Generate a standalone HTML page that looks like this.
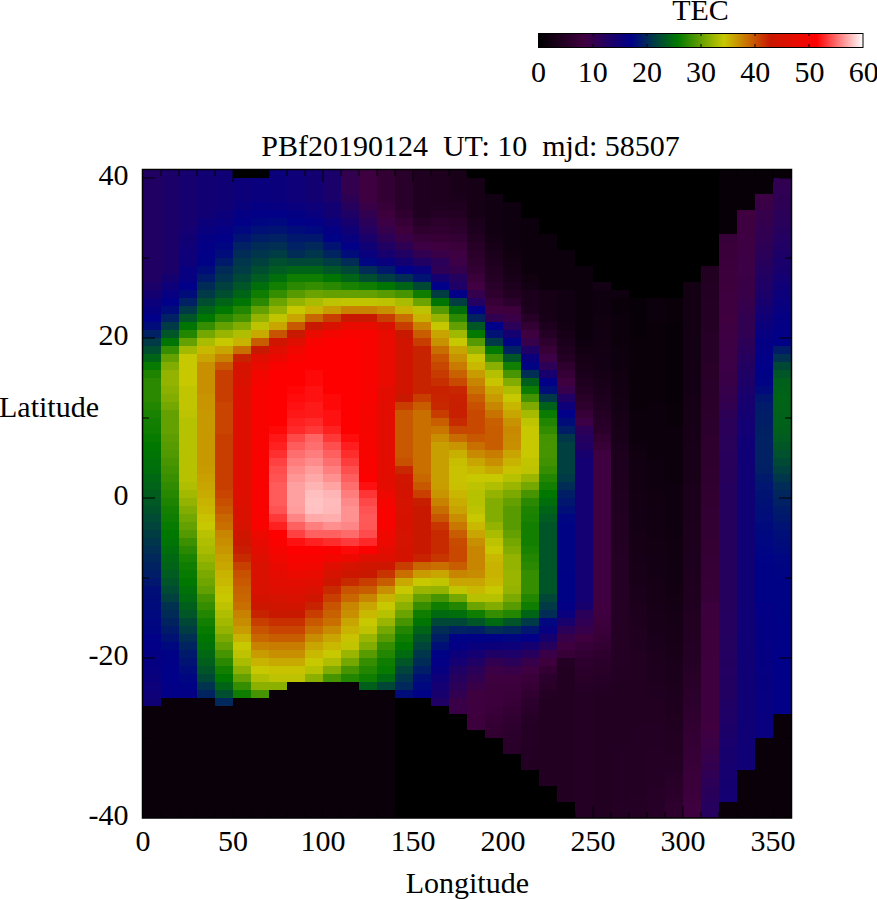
<!DOCTYPE html>
<html><head><meta charset="utf-8"><title>TEC</title>
<style>
html,body{margin:0;padding:0;background:#fff;}
body{width:877px;height:900px;overflow:hidden;font-family:"Liberation Serif",serif;}
svg{display:block;}
text{font-family:"Liberation Serif",serif;font-size:30px;fill:#000;}
</style></head><body>
<svg width="877" height="900" viewBox="0 0 877 900">
<defs><linearGradient id="cb" x1="0" y1="0" x2="1" y2="0"><stop offset="0.0000" stop-color="#000000"/><stop offset="0.1429" stop-color="#400040"/><stop offset="0.2857" stop-color="#000088"/><stop offset="0.4286" stop-color="#007800"/><stop offset="0.5714" stop-color="#c8c800"/><stop offset="0.7143" stop-color="#c81800"/><stop offset="0.8571" stop-color="#ff0000"/><stop offset="1.0000" stop-color="#ffffff"/></linearGradient></defs>
<rect width="877" height="900" fill="#fff"/>
<g shape-rendering="crispEdges">
<rect x="143" y="170" width="18" height="112" fill="#210063"/>
<rect x="143" y="282" width="18" height="8" fill="#1b0069"/>
<rect x="143" y="290" width="18" height="8" fill="#150070"/>
<rect x="143" y="298" width="18" height="8" fill="#0c007a"/>
<rect x="143" y="306" width="18" height="8" fill="#060081"/>
<rect x="143" y="314" width="18" height="8" fill="#000088"/>
<rect x="143" y="322" width="18" height="8" fill="#000c7a"/>
<rect x="143" y="330" width="18" height="8" fill="#002163"/>
<rect x="143" y="338" width="18" height="8" fill="#003a46"/>
<rect x="143" y="346" width="18" height="8" fill="#004e30"/>
<rect x="143" y="354" width="18" height="8" fill="#006416"/>
<rect x="143" y="362" width="18" height="8" fill="#077b00"/>
<rect x="143" y="370" width="18" height="8" fill="#1e8400"/>
<rect x="143" y="378" width="18" height="24" fill="#2a8900"/>
<rect x="143" y="402" width="18" height="8" fill="#238600"/>
<rect x="143" y="410" width="18" height="8" fill="#198200"/>
<rect x="143" y="418" width="18" height="8" fill="#127f00"/>
<rect x="143" y="426" width="18" height="8" fill="#0e7d00"/>
<rect x="143" y="434" width="18" height="8" fill="#077b00"/>
<rect x="143" y="442" width="18" height="8" fill="#007800"/>
<rect x="143" y="450" width="18" height="8" fill="#007503"/>
<rect x="143" y="458" width="18" height="8" fill="#007108"/>
<rect x="143" y="466" width="18" height="8" fill="#006e0b"/>
<rect x="143" y="474" width="18" height="8" fill="#006812"/>
<rect x="143" y="482" width="18" height="8" fill="#006318"/>
<rect x="143" y="490" width="18" height="8" fill="#005d1e"/>
<rect x="143" y="498" width="18" height="8" fill="#005825"/>
<rect x="143" y="506" width="18" height="8" fill="#00522b"/>
<rect x="143" y="514" width="18" height="8" fill="#004b33"/>
<rect x="143" y="522" width="18" height="8" fill="#00443b"/>
<rect x="143" y="530" width="18" height="8" fill="#003d43"/>
<rect x="143" y="538" width="18" height="8" fill="#00364b"/>
<rect x="143" y="546" width="18" height="8" fill="#002f53"/>
<rect x="143" y="554" width="18" height="8" fill="#00285b"/>
<rect x="143" y="562" width="18" height="8" fill="#002261"/>
<rect x="143" y="570" width="18" height="8" fill="#001d67"/>
<rect x="143" y="578" width="18" height="8" fill="#00166f"/>
<rect x="143" y="586" width="18" height="8" fill="#000f77"/>
<rect x="143" y="594" width="18" height="8" fill="#000d79"/>
<rect x="143" y="602" width="18" height="8" fill="#000b7b"/>
<rect x="143" y="610" width="18" height="8" fill="#00097d"/>
<rect x="143" y="618" width="18" height="8" fill="#000780"/>
<rect x="143" y="626" width="18" height="8" fill="#000582"/>
<rect x="143" y="634" width="18" height="8" fill="#000187"/>
<rect x="143" y="642" width="18" height="8" fill="#010087"/>
<rect x="143" y="650" width="18" height="8" fill="#030084"/>
<rect x="143" y="658" width="18" height="8" fill="#050082"/>
<rect x="143" y="666" width="18" height="8" fill="#070080"/>
<rect x="143" y="674" width="18" height="8" fill="#09007e"/>
<rect x="143" y="682" width="18" height="8" fill="#0c007b"/>
<rect x="143" y="690" width="18" height="8" fill="#0e0078"/>
<rect x="143" y="698" width="18" height="8" fill="#100076"/>
<rect x="143" y="706" width="18" height="112" fill="#0a000a"/>
<rect x="161" y="170" width="18" height="104" fill="#1b0069"/>
<rect x="161" y="274" width="18" height="8" fill="#150070"/>
<rect x="161" y="282" width="18" height="8" fill="#0e0079"/>
<rect x="161" y="290" width="18" height="8" fill="#070080"/>
<rect x="161" y="298" width="18" height="8" fill="#000088"/>
<rect x="161" y="306" width="18" height="8" fill="#000c7a"/>
<rect x="161" y="314" width="18" height="8" fill="#002163"/>
<rect x="161" y="322" width="18" height="8" fill="#003a46"/>
<rect x="161" y="330" width="18" height="8" fill="#005626"/>
<rect x="161" y="338" width="18" height="8" fill="#007503"/>
<rect x="161" y="346" width="18" height="8" fill="#358d00"/>
<rect x="161" y="354" width="18" height="8" fill="#64a000"/>
<rect x="161" y="362" width="18" height="8" fill="#82ac00"/>
<rect x="161" y="370" width="18" height="16" fill="#93b300"/>
<rect x="161" y="386" width="18" height="8" fill="#8cb000"/>
<rect x="161" y="394" width="18" height="8" fill="#82ac00"/>
<rect x="161" y="402" width="18" height="8" fill="#74a700"/>
<rect x="161" y="410" width="18" height="24" fill="#64a000"/>
<rect x="161" y="434" width="18" height="8" fill="#5d9d00"/>
<rect x="161" y="442" width="18" height="8" fill="#589b00"/>
<rect x="161" y="450" width="18" height="8" fill="#519900"/>
<rect x="161" y="458" width="18" height="8" fill="#489500"/>
<rect x="161" y="466" width="18" height="8" fill="#419200"/>
<rect x="161" y="474" width="18" height="8" fill="#3a8f00"/>
<rect x="161" y="482" width="18" height="8" fill="#318b00"/>
<rect x="161" y="490" width="18" height="8" fill="#278800"/>
<rect x="161" y="498" width="18" height="8" fill="#1e8400"/>
<rect x="161" y="506" width="18" height="8" fill="#158000"/>
<rect x="161" y="514" width="18" height="8" fill="#0e7d00"/>
<rect x="161" y="522" width="18" height="8" fill="#077b00"/>
<rect x="161" y="530" width="18" height="8" fill="#007800"/>
<rect x="161" y="538" width="18" height="8" fill="#007405"/>
<rect x="161" y="546" width="18" height="8" fill="#006e0b"/>
<rect x="161" y="554" width="18" height="8" fill="#006812"/>
<rect x="161" y="562" width="18" height="8" fill="#006318"/>
<rect x="161" y="570" width="18" height="8" fill="#005c20"/>
<rect x="161" y="578" width="18" height="8" fill="#005528"/>
<rect x="161" y="586" width="18" height="8" fill="#004b33"/>
<rect x="161" y="594" width="18" height="8" fill="#00403f"/>
<rect x="161" y="602" width="18" height="8" fill="#00324f"/>
<rect x="161" y="610" width="18" height="8" fill="#002b57"/>
<rect x="161" y="618" width="18" height="8" fill="#002360"/>
<rect x="161" y="626" width="18" height="8" fill="#001a6a"/>
<rect x="161" y="634" width="18" height="8" fill="#001174"/>
<rect x="161" y="642" width="18" height="8" fill="#00087f"/>
<rect x="161" y="650" width="18" height="8" fill="#000286"/>
<rect x="161" y="658" width="18" height="8" fill="#000187"/>
<rect x="161" y="666" width="18" height="16" fill="#000088"/>
<rect x="161" y="682" width="18" height="16" fill="#010087"/>
<rect x="161" y="698" width="18" height="120" fill="#0a000a"/>
<rect x="179" y="170" width="18" height="56" fill="#16006f"/>
<rect x="179" y="226" width="18" height="8" fill="#140072"/>
<rect x="179" y="234" width="18" height="8" fill="#110074"/>
<rect x="179" y="242" width="18" height="8" fill="#0f0077"/>
<rect x="179" y="250" width="18" height="16" fill="#0e0079"/>
<rect x="179" y="266" width="18" height="16" fill="#070080"/>
<rect x="179" y="282" width="18" height="8" fill="#000088"/>
<rect x="179" y="290" width="18" height="8" fill="#000c7a"/>
<rect x="179" y="298" width="18" height="8" fill="#002163"/>
<rect x="179" y="306" width="18" height="8" fill="#003a46"/>
<rect x="179" y="314" width="18" height="8" fill="#005626"/>
<rect x="179" y="322" width="18" height="8" fill="#007503"/>
<rect x="179" y="330" width="18" height="8" fill="#238600"/>
<rect x="179" y="338" width="18" height="8" fill="#64a000"/>
<rect x="179" y="346" width="18" height="8" fill="#a3b900"/>
<rect x="179" y="354" width="18" height="32" fill="#c8c800"/>
<rect x="179" y="386" width="18" height="24" fill="#c1c500"/>
<rect x="179" y="410" width="18" height="8" fill="#bdc300"/>
<rect x="179" y="418" width="18" height="64" fill="#b6c100"/>
<rect x="179" y="482" width="18" height="8" fill="#afbe00"/>
<rect x="179" y="490" width="18" height="8" fill="#a3b900"/>
<rect x="179" y="498" width="18" height="8" fill="#93b300"/>
<rect x="179" y="506" width="18" height="8" fill="#82ac00"/>
<rect x="179" y="514" width="18" height="8" fill="#72a600"/>
<rect x="179" y="522" width="18" height="8" fill="#64a000"/>
<rect x="179" y="530" width="18" height="8" fill="#549900"/>
<rect x="179" y="538" width="18" height="8" fill="#3c9000"/>
<rect x="179" y="546" width="18" height="8" fill="#2a8900"/>
<rect x="179" y="554" width="18" height="8" fill="#198200"/>
<rect x="179" y="562" width="18" height="8" fill="#0e7d00"/>
<rect x="179" y="570" width="18" height="8" fill="#077b00"/>
<rect x="179" y="578" width="18" height="8" fill="#007800"/>
<rect x="179" y="586" width="18" height="8" fill="#007108"/>
<rect x="179" y="594" width="18" height="8" fill="#006a10"/>
<rect x="179" y="602" width="18" height="8" fill="#00601b"/>
<rect x="179" y="610" width="18" height="8" fill="#005626"/>
<rect x="179" y="618" width="18" height="8" fill="#004836"/>
<rect x="179" y="626" width="18" height="8" fill="#003c44"/>
<rect x="179" y="634" width="18" height="8" fill="#002f53"/>
<rect x="179" y="642" width="18" height="8" fill="#00245f"/>
<rect x="179" y="650" width="18" height="8" fill="#001a6b"/>
<rect x="179" y="658" width="18" height="8" fill="#001372"/>
<rect x="179" y="666" width="18" height="8" fill="#000c7a"/>
<rect x="179" y="674" width="18" height="8" fill="#000681"/>
<rect x="179" y="682" width="18" height="8" fill="#000286"/>
<rect x="179" y="690" width="18" height="8" fill="#030085"/>
<rect x="179" y="698" width="18" height="120" fill="#0a000a"/>
<rect x="197" y="170" width="18" height="48" fill="#110074"/>
<rect x="197" y="218" width="18" height="8" fill="#0c007a"/>
<rect x="197" y="226" width="18" height="8" fill="#09007e"/>
<rect x="197" y="234" width="18" height="8" fill="#050083"/>
<rect x="197" y="242" width="18" height="8" fill="#030085"/>
<rect x="197" y="250" width="18" height="8" fill="#010087"/>
<rect x="197" y="258" width="18" height="8" fill="#000286"/>
<rect x="197" y="266" width="18" height="8" fill="#000c7a"/>
<rect x="197" y="274" width="18" height="8" fill="#001a6b"/>
<rect x="197" y="282" width="18" height="8" fill="#002b57"/>
<rect x="197" y="290" width="18" height="8" fill="#003a46"/>
<rect x="197" y="298" width="18" height="8" fill="#004e30"/>
<rect x="197" y="306" width="18" height="8" fill="#006416"/>
<rect x="197" y="314" width="18" height="8" fill="#007800"/>
<rect x="197" y="322" width="18" height="8" fill="#358d00"/>
<rect x="197" y="330" width="18" height="8" fill="#74a700"/>
<rect x="197" y="338" width="18" height="8" fill="#aabc00"/>
<rect x="197" y="346" width="18" height="8" fill="#c8b900"/>
<rect x="197" y="354" width="18" height="8" fill="#c8a500"/>
<rect x="197" y="362" width="18" height="32" fill="#c89000"/>
<rect x="197" y="394" width="18" height="16" fill="#c89400"/>
<rect x="197" y="410" width="18" height="56" fill="#c89800"/>
<rect x="197" y="466" width="18" height="8" fill="#c89b00"/>
<rect x="197" y="474" width="18" height="8" fill="#c8a100"/>
<rect x="197" y="482" width="18" height="8" fill="#c8a500"/>
<rect x="197" y="490" width="18" height="8" fill="#c8ab00"/>
<rect x="197" y="498" width="18" height="8" fill="#c8b300"/>
<rect x="197" y="506" width="18" height="8" fill="#c8b900"/>
<rect x="197" y="514" width="18" height="8" fill="#c8c200"/>
<rect x="197" y="522" width="18" height="8" fill="#c8c800"/>
<rect x="197" y="530" width="18" height="8" fill="#b8c200"/>
<rect x="197" y="538" width="18" height="8" fill="#afbe00"/>
<rect x="197" y="546" width="18" height="8" fill="#a8bb00"/>
<rect x="197" y="554" width="18" height="8" fill="#9ab500"/>
<rect x="197" y="562" width="18" height="8" fill="#89af00"/>
<rect x="197" y="570" width="18" height="8" fill="#7ba900"/>
<rect x="197" y="578" width="18" height="8" fill="#70a500"/>
<rect x="197" y="586" width="18" height="8" fill="#629f00"/>
<rect x="197" y="594" width="18" height="8" fill="#469400"/>
<rect x="197" y="602" width="18" height="8" fill="#358d00"/>
<rect x="197" y="610" width="18" height="8" fill="#238600"/>
<rect x="197" y="618" width="18" height="8" fill="#127f00"/>
<rect x="197" y="626" width="18" height="8" fill="#077b00"/>
<rect x="197" y="634" width="18" height="8" fill="#007602"/>
<rect x="197" y="642" width="18" height="8" fill="#007108"/>
<rect x="197" y="650" width="18" height="8" fill="#006812"/>
<rect x="197" y="658" width="18" height="8" fill="#00601b"/>
<rect x="197" y="666" width="18" height="8" fill="#005528"/>
<rect x="197" y="674" width="18" height="8" fill="#004836"/>
<rect x="197" y="682" width="18" height="8" fill="#00334e"/>
<rect x="197" y="690" width="18" height="8" fill="#00245f"/>
<rect x="197" y="698" width="18" height="120" fill="#0a000a"/>
<rect x="215" y="170" width="18" height="40" fill="#100076"/>
<rect x="215" y="210" width="18" height="8" fill="#0c007a"/>
<rect x="215" y="218" width="18" height="8" fill="#09007e"/>
<rect x="215" y="226" width="18" height="8" fill="#050083"/>
<rect x="215" y="234" width="18" height="8" fill="#010087"/>
<rect x="215" y="242" width="18" height="8" fill="#000582"/>
<rect x="215" y="250" width="18" height="8" fill="#000c7a"/>
<rect x="215" y="258" width="18" height="8" fill="#001a6b"/>
<rect x="215" y="266" width="18" height="8" fill="#002b57"/>
<rect x="215" y="274" width="18" height="8" fill="#00334e"/>
<rect x="215" y="282" width="18" height="8" fill="#00413e"/>
<rect x="215" y="290" width="18" height="8" fill="#004e30"/>
<rect x="215" y="298" width="18" height="8" fill="#006416"/>
<rect x="215" y="306" width="18" height="8" fill="#007800"/>
<rect x="215" y="314" width="18" height="8" fill="#2a8900"/>
<rect x="215" y="322" width="18" height="8" fill="#64a000"/>
<rect x="215" y="330" width="18" height="8" fill="#9ab500"/>
<rect x="215" y="338" width="18" height="8" fill="#c8c800"/>
<rect x="215" y="346" width="18" height="8" fill="#c8a500"/>
<rect x="215" y="354" width="18" height="8" fill="#c88200"/>
<rect x="215" y="362" width="18" height="8" fill="#c85900"/>
<rect x="215" y="370" width="18" height="32" fill="#c83e00"/>
<rect x="215" y="402" width="18" height="32" fill="#c84400"/>
<rect x="215" y="434" width="18" height="56" fill="#c83e00"/>
<rect x="215" y="490" width="18" height="8" fill="#c84400"/>
<rect x="215" y="498" width="18" height="8" fill="#c84f00"/>
<rect x="215" y="506" width="18" height="8" fill="#c85900"/>
<rect x="215" y="514" width="18" height="8" fill="#c86700"/>
<rect x="215" y="522" width="18" height="8" fill="#c86f00"/>
<rect x="215" y="530" width="18" height="8" fill="#c88600"/>
<rect x="215" y="538" width="18" height="8" fill="#c88e00"/>
<rect x="215" y="546" width="18" height="8" fill="#c89600"/>
<rect x="215" y="554" width="18" height="8" fill="#c8a100"/>
<rect x="215" y="562" width="18" height="8" fill="#c8a700"/>
<rect x="215" y="570" width="18" height="8" fill="#c8b300"/>
<rect x="215" y="578" width="18" height="8" fill="#c8b900"/>
<rect x="215" y="586" width="18" height="8" fill="#c8c200"/>
<rect x="215" y="594" width="18" height="8" fill="#c8c800"/>
<rect x="215" y="602" width="18" height="8" fill="#bdc300"/>
<rect x="215" y="610" width="18" height="8" fill="#afbe00"/>
<rect x="215" y="618" width="18" height="8" fill="#a3b900"/>
<rect x="215" y="626" width="18" height="8" fill="#93b300"/>
<rect x="215" y="634" width="18" height="8" fill="#7ba900"/>
<rect x="215" y="642" width="18" height="8" fill="#64a000"/>
<rect x="215" y="650" width="18" height="8" fill="#469400"/>
<rect x="215" y="658" width="18" height="8" fill="#2a8900"/>
<rect x="215" y="666" width="18" height="8" fill="#127f00"/>
<rect x="215" y="674" width="18" height="8" fill="#007800"/>
<rect x="215" y="682" width="18" height="8" fill="#006416"/>
<rect x="215" y="690" width="18" height="8" fill="#004e30"/>
<rect x="215" y="698" width="18" height="8" fill="#00285b"/>
<rect x="215" y="706" width="18" height="112" fill="#0a000a"/>
<rect x="233" y="170" width="18" height="8" fill="#000000"/>
<rect x="233" y="178" width="18" height="24" fill="#0c007a"/>
<rect x="233" y="202" width="18" height="8" fill="#09007e"/>
<rect x="233" y="210" width="18" height="8" fill="#050083"/>
<rect x="233" y="218" width="18" height="8" fill="#010087"/>
<rect x="233" y="226" width="18" height="8" fill="#00087f"/>
<rect x="233" y="234" width="18" height="8" fill="#001372"/>
<rect x="233" y="242" width="18" height="8" fill="#002163"/>
<rect x="233" y="250" width="18" height="8" fill="#002c56"/>
<rect x="233" y="258" width="18" height="8" fill="#00364b"/>
<rect x="233" y="266" width="18" height="8" fill="#003c44"/>
<rect x="233" y="274" width="18" height="8" fill="#004836"/>
<rect x="233" y="282" width="18" height="8" fill="#005626"/>
<rect x="233" y="290" width="18" height="8" fill="#006416"/>
<rect x="233" y="298" width="18" height="8" fill="#007503"/>
<rect x="233" y="306" width="18" height="8" fill="#238600"/>
<rect x="233" y="314" width="18" height="8" fill="#469400"/>
<rect x="233" y="322" width="18" height="8" fill="#82ac00"/>
<rect x="233" y="330" width="18" height="8" fill="#afbe00"/>
<rect x="233" y="338" width="18" height="8" fill="#c8b300"/>
<rect x="233" y="346" width="18" height="8" fill="#c86f00"/>
<rect x="233" y="354" width="18" height="8" fill="#c82300"/>
<rect x="233" y="362" width="18" height="16" fill="#d61200"/>
<rect x="233" y="378" width="18" height="8" fill="#d91100"/>
<rect x="233" y="386" width="18" height="24" fill="#dc0f00"/>
<rect x="233" y="410" width="18" height="88" fill="#de0e00"/>
<rect x="233" y="498" width="18" height="8" fill="#dc0f00"/>
<rect x="233" y="506" width="18" height="8" fill="#da1000"/>
<rect x="233" y="514" width="18" height="8" fill="#d81100"/>
<rect x="233" y="522" width="18" height="8" fill="#d61200"/>
<rect x="233" y="530" width="18" height="8" fill="#cf1500"/>
<rect x="233" y="538" width="18" height="8" fill="#cb1700"/>
<rect x="233" y="546" width="18" height="8" fill="#c81d00"/>
<rect x="233" y="554" width="18" height="8" fill="#c82a00"/>
<rect x="233" y="562" width="18" height="8" fill="#c84000"/>
<rect x="233" y="570" width="18" height="8" fill="#c85100"/>
<rect x="233" y="578" width="18" height="8" fill="#c85900"/>
<rect x="233" y="586" width="18" height="8" fill="#c86100"/>
<rect x="233" y="594" width="18" height="8" fill="#c86700"/>
<rect x="233" y="602" width="18" height="8" fill="#c86f00"/>
<rect x="233" y="610" width="18" height="8" fill="#c88200"/>
<rect x="233" y="618" width="18" height="8" fill="#c88c00"/>
<rect x="233" y="626" width="18" height="8" fill="#c89b00"/>
<rect x="233" y="634" width="18" height="8" fill="#c8b300"/>
<rect x="233" y="642" width="18" height="8" fill="#c8c800"/>
<rect x="233" y="650" width="18" height="8" fill="#bdc300"/>
<rect x="233" y="658" width="18" height="8" fill="#aabc00"/>
<rect x="233" y="666" width="18" height="8" fill="#8cb000"/>
<rect x="233" y="674" width="18" height="8" fill="#64a000"/>
<rect x="233" y="682" width="18" height="8" fill="#358d00"/>
<rect x="233" y="690" width="18" height="8" fill="#0e7d00"/>
<rect x="233" y="698" width="18" height="120" fill="#0a000a"/>
<rect x="251" y="170" width="18" height="8" fill="#000000"/>
<rect x="251" y="178" width="18" height="24" fill="#09007e"/>
<rect x="251" y="202" width="18" height="8" fill="#050083"/>
<rect x="251" y="210" width="18" height="8" fill="#010087"/>
<rect x="251" y="218" width="18" height="8" fill="#000582"/>
<rect x="251" y="226" width="18" height="8" fill="#001076"/>
<rect x="251" y="234" width="18" height="8" fill="#001d67"/>
<rect x="251" y="242" width="18" height="8" fill="#002b57"/>
<rect x="251" y="250" width="18" height="8" fill="#00364b"/>
<rect x="251" y="258" width="18" height="8" fill="#00413e"/>
<rect x="251" y="266" width="18" height="8" fill="#004e30"/>
<rect x="251" y="274" width="18" height="8" fill="#005c20"/>
<rect x="251" y="282" width="18" height="8" fill="#006e0b"/>
<rect x="251" y="290" width="18" height="8" fill="#0e7d00"/>
<rect x="251" y="298" width="18" height="8" fill="#2a8900"/>
<rect x="251" y="306" width="18" height="8" fill="#64a000"/>
<rect x="251" y="314" width="18" height="8" fill="#93b300"/>
<rect x="251" y="322" width="18" height="8" fill="#bdc300"/>
<rect x="251" y="330" width="18" height="8" fill="#c8a900"/>
<rect x="251" y="338" width="18" height="8" fill="#c85d00"/>
<rect x="251" y="346" width="18" height="8" fill="#c91800"/>
<rect x="251" y="354" width="18" height="8" fill="#df0e00"/>
<rect x="251" y="362" width="18" height="8" fill="#e90a00"/>
<rect x="251" y="370" width="18" height="8" fill="#f30500"/>
<rect x="251" y="378" width="18" height="8" fill="#f60400"/>
<rect x="251" y="386" width="18" height="144" fill="#f80300"/>
<rect x="251" y="530" width="18" height="8" fill="#ed0800"/>
<rect x="251" y="538" width="18" height="8" fill="#e70a00"/>
<rect x="251" y="546" width="18" height="8" fill="#e30c00"/>
<rect x="251" y="554" width="18" height="8" fill="#dc0f00"/>
<rect x="251" y="562" width="18" height="24" fill="#d91100"/>
<rect x="251" y="586" width="18" height="8" fill="#d81100"/>
<rect x="251" y="594" width="18" height="8" fill="#d31300"/>
<rect x="251" y="602" width="18" height="8" fill="#cc1600"/>
<rect x="251" y="610" width="18" height="8" fill="#c82300"/>
<rect x="251" y="618" width="18" height="8" fill="#c83e00"/>
<rect x="251" y="626" width="18" height="8" fill="#c85300"/>
<rect x="251" y="634" width="18" height="8" fill="#c86700"/>
<rect x="251" y="642" width="18" height="8" fill="#c88200"/>
<rect x="251" y="650" width="18" height="8" fill="#c89b00"/>
<rect x="251" y="658" width="18" height="8" fill="#c8b300"/>
<rect x="251" y="666" width="18" height="8" fill="#c8c800"/>
<rect x="251" y="674" width="18" height="8" fill="#afbe00"/>
<rect x="251" y="682" width="18" height="8" fill="#8cb000"/>
<rect x="251" y="690" width="18" height="8" fill="#469400"/>
<rect x="251" y="698" width="18" height="120" fill="#0a000a"/>
<rect x="269" y="170" width="18" height="32" fill="#0b007c"/>
<rect x="269" y="202" width="18" height="8" fill="#060081"/>
<rect x="269" y="210" width="18" height="8" fill="#010087"/>
<rect x="269" y="218" width="18" height="8" fill="#00087f"/>
<rect x="269" y="226" width="18" height="8" fill="#001372"/>
<rect x="269" y="234" width="18" height="8" fill="#002163"/>
<rect x="269" y="242" width="18" height="8" fill="#002f53"/>
<rect x="269" y="250" width="18" height="8" fill="#003c44"/>
<rect x="269" y="258" width="18" height="8" fill="#004e30"/>
<rect x="269" y="266" width="18" height="8" fill="#005c20"/>
<rect x="269" y="274" width="18" height="8" fill="#006e0b"/>
<rect x="269" y="282" width="18" height="8" fill="#127f00"/>
<rect x="269" y="290" width="18" height="8" fill="#358d00"/>
<rect x="269" y="298" width="18" height="8" fill="#6ba300"/>
<rect x="269" y="306" width="18" height="8" fill="#93b300"/>
<rect x="269" y="314" width="18" height="8" fill="#c1c500"/>
<rect x="269" y="322" width="18" height="8" fill="#c8a500"/>
<rect x="269" y="330" width="18" height="8" fill="#c85300"/>
<rect x="269" y="338" width="18" height="8" fill="#cf1500"/>
<rect x="269" y="346" width="18" height="8" fill="#df0e00"/>
<rect x="269" y="354" width="18" height="8" fill="#ec0800"/>
<rect x="269" y="362" width="18" height="8" fill="#f80300"/>
<rect x="269" y="370" width="18" height="56" fill="#ff0000"/>
<rect x="269" y="426" width="18" height="8" fill="#ff0808"/>
<rect x="269" y="434" width="18" height="8" fill="#ff1717"/>
<rect x="269" y="442" width="18" height="8" fill="#ff2020"/>
<rect x="269" y="450" width="18" height="8" fill="#ff2f2f"/>
<rect x="269" y="458" width="18" height="8" fill="#ff4141"/>
<rect x="269" y="466" width="18" height="8" fill="#ff4c4c"/>
<rect x="269" y="474" width="18" height="8" fill="#ff5252"/>
<rect x="269" y="482" width="18" height="24" fill="#ff5b5b"/>
<rect x="269" y="506" width="18" height="8" fill="#ff5252"/>
<rect x="269" y="514" width="18" height="8" fill="#ff3838"/>
<rect x="269" y="522" width="18" height="8" fill="#ff2020"/>
<rect x="269" y="530" width="18" height="8" fill="#ff0000"/>
<rect x="269" y="538" width="18" height="8" fill="#fa0200"/>
<rect x="269" y="546" width="18" height="8" fill="#f50400"/>
<rect x="269" y="554" width="18" height="8" fill="#ef0700"/>
<rect x="269" y="562" width="18" height="8" fill="#ea0900"/>
<rect x="269" y="570" width="18" height="8" fill="#e60b00"/>
<rect x="269" y="578" width="18" height="8" fill="#e10d00"/>
<rect x="269" y="586" width="18" height="8" fill="#dc0f00"/>
<rect x="269" y="594" width="18" height="8" fill="#d61200"/>
<rect x="269" y="602" width="18" height="8" fill="#cf1500"/>
<rect x="269" y="610" width="18" height="8" fill="#c91800"/>
<rect x="269" y="618" width="18" height="8" fill="#c83000"/>
<rect x="269" y="626" width="18" height="8" fill="#c84400"/>
<rect x="269" y="634" width="18" height="8" fill="#c85d00"/>
<rect x="269" y="642" width="18" height="8" fill="#c87c00"/>
<rect x="269" y="650" width="18" height="8" fill="#c89000"/>
<rect x="269" y="658" width="18" height="8" fill="#c8a900"/>
<rect x="269" y="666" width="18" height="8" fill="#c8c200"/>
<rect x="269" y="674" width="18" height="8" fill="#bdc300"/>
<rect x="269" y="682" width="18" height="8" fill="#8cb000"/>
<rect x="269" y="690" width="18" height="128" fill="#0a000a"/>
<rect x="287" y="170" width="18" height="32" fill="#0e0079"/>
<rect x="287" y="202" width="18" height="8" fill="#09007e"/>
<rect x="287" y="210" width="18" height="8" fill="#040083"/>
<rect x="287" y="218" width="18" height="8" fill="#000187"/>
<rect x="287" y="226" width="18" height="8" fill="#000c7a"/>
<rect x="287" y="234" width="18" height="8" fill="#00176e"/>
<rect x="287" y="242" width="18" height="8" fill="#002163"/>
<rect x="287" y="250" width="18" height="8" fill="#002c56"/>
<rect x="287" y="258" width="18" height="8" fill="#004836"/>
<rect x="287" y="266" width="18" height="8" fill="#006416"/>
<rect x="287" y="274" width="18" height="8" fill="#0e7d00"/>
<rect x="287" y="282" width="18" height="8" fill="#2a8900"/>
<rect x="287" y="290" width="18" height="8" fill="#589b00"/>
<rect x="287" y="298" width="18" height="8" fill="#93b300"/>
<rect x="287" y="306" width="18" height="8" fill="#c8c800"/>
<rect x="287" y="314" width="18" height="8" fill="#c8a500"/>
<rect x="287" y="322" width="18" height="8" fill="#c85900"/>
<rect x="287" y="330" width="18" height="8" fill="#c91800"/>
<rect x="287" y="338" width="18" height="8" fill="#df0e00"/>
<rect x="287" y="346" width="18" height="8" fill="#ef0700"/>
<rect x="287" y="354" width="18" height="8" fill="#f80300"/>
<rect x="287" y="362" width="18" height="24" fill="#ff0000"/>
<rect x="287" y="386" width="18" height="8" fill="#ff0505"/>
<rect x="287" y="394" width="18" height="8" fill="#ff0b0b"/>
<rect x="287" y="402" width="18" height="8" fill="#ff1111"/>
<rect x="287" y="410" width="18" height="8" fill="#ff1717"/>
<rect x="287" y="418" width="18" height="8" fill="#ff2020"/>
<rect x="287" y="426" width="18" height="8" fill="#ff2929"/>
<rect x="287" y="434" width="18" height="8" fill="#ff4848"/>
<rect x="287" y="442" width="18" height="8" fill="#ff5d5d"/>
<rect x="287" y="450" width="18" height="8" fill="#ff6e6e"/>
<rect x="287" y="458" width="18" height="8" fill="#ff7d7d"/>
<rect x="287" y="466" width="18" height="8" fill="#ff8a8a"/>
<rect x="287" y="474" width="18" height="8" fill="#ff9696"/>
<rect x="287" y="482" width="18" height="24" fill="#ffa0a0"/>
<rect x="287" y="506" width="18" height="8" fill="#ff9d9d"/>
<rect x="287" y="514" width="18" height="8" fill="#ff8585"/>
<rect x="287" y="522" width="18" height="8" fill="#ff6060"/>
<rect x="287" y="530" width="18" height="8" fill="#ff4141"/>
<rect x="287" y="538" width="18" height="8" fill="#ff1111"/>
<rect x="287" y="546" width="18" height="8" fill="#ff0000"/>
<rect x="287" y="554" width="18" height="8" fill="#f80300"/>
<rect x="287" y="562" width="18" height="8" fill="#f30500"/>
<rect x="287" y="570" width="18" height="8" fill="#eb0900"/>
<rect x="287" y="578" width="18" height="8" fill="#e30c00"/>
<rect x="287" y="586" width="18" height="8" fill="#de0e00"/>
<rect x="287" y="594" width="18" height="8" fill="#d81100"/>
<rect x="287" y="602" width="18" height="8" fill="#d11400"/>
<rect x="287" y="610" width="18" height="8" fill="#c91800"/>
<rect x="287" y="618" width="18" height="8" fill="#c83000"/>
<rect x="287" y="626" width="18" height="8" fill="#c84400"/>
<rect x="287" y="634" width="18" height="8" fill="#c85d00"/>
<rect x="287" y="642" width="18" height="8" fill="#c87c00"/>
<rect x="287" y="650" width="18" height="8" fill="#c89000"/>
<rect x="287" y="658" width="18" height="8" fill="#c8a900"/>
<rect x="287" y="666" width="18" height="8" fill="#c8c200"/>
<rect x="287" y="674" width="18" height="8" fill="#bdc300"/>
<rect x="287" y="682" width="18" height="136" fill="#0a000a"/>
<rect x="305" y="170" width="18" height="32" fill="#120073"/>
<rect x="305" y="202" width="18" height="8" fill="#0e0079"/>
<rect x="305" y="210" width="18" height="8" fill="#09007e"/>
<rect x="305" y="218" width="18" height="8" fill="#030085"/>
<rect x="305" y="226" width="18" height="8" fill="#00087f"/>
<rect x="305" y="234" width="18" height="8" fill="#00176e"/>
<rect x="305" y="242" width="18" height="8" fill="#00285b"/>
<rect x="305" y="250" width="18" height="8" fill="#00364b"/>
<rect x="305" y="258" width="18" height="8" fill="#004836"/>
<rect x="305" y="266" width="18" height="8" fill="#006416"/>
<rect x="305" y="274" width="18" height="8" fill="#0e7d00"/>
<rect x="305" y="282" width="18" height="8" fill="#358d00"/>
<rect x="305" y="290" width="18" height="8" fill="#6ba300"/>
<rect x="305" y="298" width="18" height="8" fill="#aabc00"/>
<rect x="305" y="306" width="18" height="8" fill="#c8b300"/>
<rect x="305" y="314" width="18" height="8" fill="#c86700"/>
<rect x="305" y="322" width="18" height="8" fill="#c91800"/>
<rect x="305" y="330" width="18" height="8" fill="#e90a00"/>
<rect x="305" y="338" width="18" height="8" fill="#f80300"/>
<rect x="305" y="346" width="18" height="24" fill="#ff0000"/>
<rect x="305" y="370" width="18" height="16" fill="#ff0808"/>
<rect x="305" y="386" width="18" height="16" fill="#ff1111"/>
<rect x="305" y="402" width="18" height="16" fill="#ff1a1a"/>
<rect x="305" y="418" width="18" height="8" fill="#ff2929"/>
<rect x="305" y="426" width="18" height="8" fill="#ff3838"/>
<rect x="305" y="434" width="18" height="8" fill="#ff6565"/>
<rect x="305" y="442" width="18" height="8" fill="#ff6e6e"/>
<rect x="305" y="450" width="18" height="8" fill="#ff7d7d"/>
<rect x="305" y="458" width="18" height="8" fill="#ff8c8c"/>
<rect x="305" y="466" width="18" height="8" fill="#ff9c9c"/>
<rect x="305" y="474" width="18" height="8" fill="#ffa8a8"/>
<rect x="305" y="482" width="18" height="8" fill="#ffb4b4"/>
<rect x="305" y="490" width="18" height="8" fill="#ffbfbf"/>
<rect x="305" y="498" width="18" height="8" fill="#ffc3c3"/>
<rect x="305" y="506" width="18" height="8" fill="#ffc1c1"/>
<rect x="305" y="514" width="18" height="8" fill="#ffa9a9"/>
<rect x="305" y="522" width="18" height="8" fill="#ff7f7f"/>
<rect x="305" y="530" width="18" height="8" fill="#ff6161"/>
<rect x="305" y="538" width="18" height="8" fill="#ff2020"/>
<rect x="305" y="546" width="18" height="8" fill="#ff0000"/>
<rect x="305" y="554" width="18" height="8" fill="#f80300"/>
<rect x="305" y="562" width="18" height="8" fill="#f10600"/>
<rect x="305" y="570" width="18" height="8" fill="#e90a00"/>
<rect x="305" y="578" width="18" height="8" fill="#e10d00"/>
<rect x="305" y="586" width="18" height="8" fill="#d81100"/>
<rect x="305" y="594" width="18" height="8" fill="#cf1500"/>
<rect x="305" y="602" width="18" height="8" fill="#c82300"/>
<rect x="305" y="610" width="18" height="8" fill="#c83e00"/>
<rect x="305" y="618" width="18" height="8" fill="#c85900"/>
<rect x="305" y="626" width="18" height="8" fill="#c86f00"/>
<rect x="305" y="634" width="18" height="8" fill="#c88c00"/>
<rect x="305" y="642" width="18" height="8" fill="#c8a500"/>
<rect x="305" y="650" width="18" height="8" fill="#c8b900"/>
<rect x="305" y="658" width="18" height="8" fill="#c8c800"/>
<rect x="305" y="666" width="18" height="8" fill="#b6c100"/>
<rect x="305" y="674" width="18" height="8" fill="#8cb000"/>
<rect x="305" y="682" width="18" height="136" fill="#0a000a"/>
<rect x="323" y="170" width="18" height="32" fill="#1a006b"/>
<rect x="323" y="202" width="18" height="16" fill="#120073"/>
<rect x="323" y="218" width="18" height="8" fill="#0b007c"/>
<rect x="323" y="226" width="18" height="8" fill="#050083"/>
<rect x="323" y="234" width="18" height="8" fill="#000286"/>
<rect x="323" y="242" width="18" height="8" fill="#001372"/>
<rect x="323" y="250" width="18" height="8" fill="#00245f"/>
<rect x="323" y="258" width="18" height="8" fill="#003c44"/>
<rect x="323" y="266" width="18" height="8" fill="#005626"/>
<rect x="323" y="274" width="18" height="8" fill="#007503"/>
<rect x="323" y="282" width="18" height="8" fill="#2a8900"/>
<rect x="323" y="290" width="18" height="8" fill="#64a000"/>
<rect x="323" y="298" width="18" height="8" fill="#bdc300"/>
<rect x="323" y="306" width="18" height="8" fill="#c89b00"/>
<rect x="323" y="314" width="18" height="8" fill="#c83e00"/>
<rect x="323" y="322" width="18" height="8" fill="#d91100"/>
<rect x="323" y="330" width="18" height="8" fill="#f30500"/>
<rect x="323" y="338" width="18" height="56" fill="#ff0000"/>
<rect x="323" y="394" width="18" height="16" fill="#ff0808"/>
<rect x="323" y="410" width="18" height="16" fill="#ff1111"/>
<rect x="323" y="426" width="18" height="8" fill="#ff2020"/>
<rect x="323" y="434" width="18" height="8" fill="#ff3737"/>
<rect x="323" y="442" width="18" height="8" fill="#ff4e4e"/>
<rect x="323" y="450" width="18" height="8" fill="#ff5f5f"/>
<rect x="323" y="458" width="18" height="8" fill="#ff6e6e"/>
<rect x="323" y="466" width="18" height="8" fill="#ff7e7e"/>
<rect x="323" y="474" width="18" height="8" fill="#ff9090"/>
<rect x="323" y="482" width="18" height="8" fill="#ffa3a3"/>
<rect x="323" y="490" width="18" height="8" fill="#ffb5b5"/>
<rect x="323" y="498" width="18" height="8" fill="#ffbbbb"/>
<rect x="323" y="506" width="18" height="8" fill="#ffb9b9"/>
<rect x="323" y="514" width="18" height="8" fill="#ffadad"/>
<rect x="323" y="522" width="18" height="8" fill="#ff8e8e"/>
<rect x="323" y="530" width="18" height="8" fill="#ff6060"/>
<rect x="323" y="538" width="18" height="8" fill="#ff2c2c"/>
<rect x="323" y="546" width="18" height="8" fill="#fd0100"/>
<rect x="323" y="554" width="18" height="8" fill="#f30500"/>
<rect x="323" y="562" width="18" height="8" fill="#df0e00"/>
<rect x="323" y="570" width="18" height="8" fill="#d61200"/>
<rect x="323" y="578" width="18" height="8" fill="#cc1600"/>
<rect x="323" y="586" width="18" height="8" fill="#c82a00"/>
<rect x="323" y="594" width="18" height="8" fill="#c83e00"/>
<rect x="323" y="602" width="18" height="8" fill="#c85300"/>
<rect x="323" y="610" width="18" height="8" fill="#c86100"/>
<rect x="323" y="618" width="18" height="8" fill="#c86f00"/>
<rect x="323" y="626" width="18" height="8" fill="#c88a00"/>
<rect x="323" y="634" width="18" height="8" fill="#c8a500"/>
<rect x="323" y="642" width="18" height="8" fill="#c8b900"/>
<rect x="323" y="650" width="18" height="8" fill="#c8c800"/>
<rect x="323" y="658" width="18" height="8" fill="#afbe00"/>
<rect x="323" y="666" width="18" height="8" fill="#82ac00"/>
<rect x="323" y="674" width="18" height="8" fill="#469400"/>
<rect x="323" y="682" width="18" height="136" fill="#0a000a"/>
<rect x="341" y="170" width="18" height="24" fill="#33004f"/>
<rect x="341" y="194" width="18" height="8" fill="#2e0054"/>
<rect x="341" y="202" width="18" height="8" fill="#26005d"/>
<rect x="341" y="210" width="18" height="8" fill="#1f0065"/>
<rect x="341" y="218" width="18" height="8" fill="#17006e"/>
<rect x="341" y="226" width="18" height="8" fill="#100076"/>
<rect x="341" y="234" width="18" height="8" fill="#09007e"/>
<rect x="341" y="242" width="18" height="8" fill="#010087"/>
<rect x="341" y="250" width="18" height="8" fill="#000c7a"/>
<rect x="341" y="258" width="18" height="8" fill="#002c56"/>
<rect x="341" y="266" width="18" height="8" fill="#004836"/>
<rect x="341" y="274" width="18" height="8" fill="#006416"/>
<rect x="341" y="282" width="18" height="8" fill="#198200"/>
<rect x="341" y="290" width="18" height="8" fill="#64a000"/>
<rect x="341" y="298" width="18" height="8" fill="#c1c500"/>
<rect x="341" y="306" width="18" height="8" fill="#c88200"/>
<rect x="341" y="314" width="18" height="8" fill="#c91800"/>
<rect x="341" y="322" width="18" height="8" fill="#e90a00"/>
<rect x="341" y="330" width="18" height="8" fill="#f80300"/>
<rect x="341" y="338" width="18" height="96" fill="#ff0000"/>
<rect x="341" y="434" width="18" height="8" fill="#ff0d0d"/>
<rect x="341" y="442" width="18" height="8" fill="#ff1d1d"/>
<rect x="341" y="450" width="18" height="8" fill="#ff2c2c"/>
<rect x="341" y="458" width="18" height="8" fill="#ff3c3c"/>
<rect x="341" y="466" width="18" height="8" fill="#ff4e4e"/>
<rect x="341" y="474" width="18" height="8" fill="#ff5e5e"/>
<rect x="341" y="482" width="18" height="8" fill="#ff6d6d"/>
<rect x="341" y="490" width="18" height="8" fill="#ff7d7d"/>
<rect x="341" y="498" width="18" height="8" fill="#ff8888"/>
<rect x="341" y="506" width="18" height="16" fill="#ff9191"/>
<rect x="341" y="522" width="18" height="8" fill="#ff8686"/>
<rect x="341" y="530" width="18" height="8" fill="#ff6b6b"/>
<rect x="341" y="538" width="18" height="8" fill="#ff3a3a"/>
<rect x="341" y="546" width="18" height="8" fill="#ff0808"/>
<rect x="341" y="554" width="18" height="8" fill="#ed0800"/>
<rect x="341" y="562" width="18" height="8" fill="#d61200"/>
<rect x="341" y="570" width="18" height="8" fill="#cc1600"/>
<rect x="341" y="578" width="18" height="8" fill="#c82a00"/>
<rect x="341" y="586" width="18" height="8" fill="#c85300"/>
<rect x="341" y="594" width="18" height="8" fill="#c86700"/>
<rect x="341" y="602" width="18" height="8" fill="#c88600"/>
<rect x="341" y="610" width="18" height="8" fill="#c89000"/>
<rect x="341" y="618" width="18" height="8" fill="#c8a500"/>
<rect x="341" y="626" width="18" height="8" fill="#c8b300"/>
<rect x="341" y="634" width="18" height="8" fill="#c8c200"/>
<rect x="341" y="642" width="18" height="8" fill="#c1c500"/>
<rect x="341" y="650" width="18" height="8" fill="#9ab500"/>
<rect x="341" y="658" width="18" height="8" fill="#74a700"/>
<rect x="341" y="666" width="18" height="8" fill="#469400"/>
<rect x="341" y="674" width="18" height="8" fill="#238600"/>
<rect x="341" y="682" width="18" height="136" fill="#0a000a"/>
<rect x="359" y="170" width="18" height="32" fill="#3f0041"/>
<rect x="359" y="202" width="18" height="8" fill="#390048"/>
<rect x="359" y="210" width="18" height="8" fill="#320050"/>
<rect x="359" y="218" width="18" height="8" fill="#2a0059"/>
<rect x="359" y="226" width="18" height="8" fill="#230061"/>
<rect x="359" y="234" width="18" height="8" fill="#1a006b"/>
<rect x="359" y="242" width="18" height="8" fill="#100076"/>
<rect x="359" y="250" width="18" height="8" fill="#09007e"/>
<rect x="359" y="258" width="18" height="8" fill="#000582"/>
<rect x="359" y="266" width="18" height="8" fill="#002c56"/>
<rect x="359" y="274" width="18" height="8" fill="#004e30"/>
<rect x="359" y="282" width="18" height="8" fill="#0e7d00"/>
<rect x="359" y="290" width="18" height="8" fill="#64a000"/>
<rect x="359" y="298" width="18" height="8" fill="#c1c500"/>
<rect x="359" y="306" width="18" height="8" fill="#c88200"/>
<rect x="359" y="314" width="18" height="8" fill="#c91800"/>
<rect x="359" y="322" width="18" height="8" fill="#e90a00"/>
<rect x="359" y="330" width="18" height="72" fill="#f80300"/>
<rect x="359" y="402" width="18" height="16" fill="#f60400"/>
<rect x="359" y="418" width="18" height="16" fill="#f50500"/>
<rect x="359" y="434" width="18" height="8" fill="#f50400"/>
<rect x="359" y="442" width="18" height="8" fill="#f60400"/>
<rect x="359" y="450" width="18" height="8" fill="#f70400"/>
<rect x="359" y="458" width="18" height="8" fill="#f80300"/>
<rect x="359" y="466" width="18" height="8" fill="#f90300"/>
<rect x="359" y="474" width="18" height="8" fill="#fd0100"/>
<rect x="359" y="482" width="18" height="8" fill="#ff1010"/>
<rect x="359" y="490" width="18" height="8" fill="#ff3434"/>
<rect x="359" y="498" width="18" height="8" fill="#ff4747"/>
<rect x="359" y="506" width="18" height="8" fill="#ff5252"/>
<rect x="359" y="514" width="18" height="8" fill="#ff5858"/>
<rect x="359" y="522" width="18" height="8" fill="#ff5656"/>
<rect x="359" y="530" width="18" height="8" fill="#ff4b4b"/>
<rect x="359" y="538" width="18" height="8" fill="#ff2727"/>
<rect x="359" y="546" width="18" height="8" fill="#fb0200"/>
<rect x="359" y="554" width="18" height="8" fill="#de0e00"/>
<rect x="359" y="562" width="18" height="8" fill="#cf1500"/>
<rect x="359" y="570" width="18" height="8" fill="#c91800"/>
<rect x="359" y="578" width="18" height="8" fill="#c83e00"/>
<rect x="359" y="586" width="18" height="8" fill="#c85d00"/>
<rect x="359" y="594" width="18" height="8" fill="#c88600"/>
<rect x="359" y="602" width="18" height="8" fill="#c8a500"/>
<rect x="359" y="610" width="18" height="8" fill="#c8b900"/>
<rect x="359" y="618" width="18" height="8" fill="#c8c800"/>
<rect x="359" y="626" width="18" height="8" fill="#bdc300"/>
<rect x="359" y="634" width="18" height="8" fill="#9ab500"/>
<rect x="359" y="642" width="18" height="8" fill="#82ac00"/>
<rect x="359" y="650" width="18" height="8" fill="#589b00"/>
<rect x="359" y="658" width="18" height="8" fill="#358d00"/>
<rect x="359" y="666" width="18" height="8" fill="#238600"/>
<rect x="359" y="674" width="18" height="8" fill="#0e7d00"/>
<rect x="359" y="682" width="18" height="8" fill="#00601b"/>
<rect x="359" y="690" width="18" height="128" fill="#0a000a"/>
<rect x="377" y="170" width="18" height="32" fill="#330033"/>
<rect x="377" y="202" width="18" height="8" fill="#380038"/>
<rect x="377" y="210" width="18" height="8" fill="#3d003d"/>
<rect x="377" y="218" width="18" height="8" fill="#3d0044"/>
<rect x="377" y="226" width="18" height="8" fill="#35004c"/>
<rect x="377" y="234" width="18" height="8" fill="#2c0057"/>
<rect x="377" y="242" width="18" height="8" fill="#210063"/>
<rect x="377" y="250" width="18" height="8" fill="#17006e"/>
<rect x="377" y="258" width="18" height="8" fill="#09007e"/>
<rect x="377" y="266" width="18" height="8" fill="#001a6b"/>
<rect x="377" y="274" width="18" height="8" fill="#003c44"/>
<rect x="377" y="282" width="18" height="8" fill="#007503"/>
<rect x="377" y="290" width="18" height="8" fill="#589b00"/>
<rect x="377" y="298" width="18" height="8" fill="#bdc300"/>
<rect x="377" y="306" width="18" height="8" fill="#c89000"/>
<rect x="377" y="314" width="18" height="8" fill="#c83e00"/>
<rect x="377" y="322" width="18" height="8" fill="#d91100"/>
<rect x="377" y="330" width="18" height="56" fill="#e90a00"/>
<rect x="377" y="386" width="18" height="96" fill="#e30c00"/>
<rect x="377" y="482" width="18" height="8" fill="#e40c00"/>
<rect x="377" y="490" width="18" height="8" fill="#ed0800"/>
<rect x="377" y="498" width="18" height="8" fill="#f40500"/>
<rect x="377" y="506" width="18" height="16" fill="#f90300"/>
<rect x="377" y="522" width="18" height="8" fill="#f70400"/>
<rect x="377" y="530" width="18" height="8" fill="#ef0700"/>
<rect x="377" y="538" width="18" height="8" fill="#eb0900"/>
<rect x="377" y="546" width="18" height="8" fill="#e50b00"/>
<rect x="377" y="554" width="18" height="8" fill="#dc0f00"/>
<rect x="377" y="562" width="18" height="8" fill="#cc1600"/>
<rect x="377" y="570" width="18" height="8" fill="#c83400"/>
<rect x="377" y="578" width="18" height="8" fill="#c85d00"/>
<rect x="377" y="586" width="18" height="8" fill="#c89000"/>
<rect x="377" y="594" width="18" height="8" fill="#c8b300"/>
<rect x="377" y="602" width="18" height="8" fill="#c8c800"/>
<rect x="377" y="610" width="18" height="8" fill="#b6c100"/>
<rect x="377" y="618" width="18" height="8" fill="#9ab500"/>
<rect x="377" y="626" width="18" height="8" fill="#74a700"/>
<rect x="377" y="634" width="18" height="8" fill="#589b00"/>
<rect x="377" y="642" width="18" height="8" fill="#358d00"/>
<rect x="377" y="650" width="18" height="8" fill="#238600"/>
<rect x="377" y="658" width="18" height="8" fill="#0e7d00"/>
<rect x="377" y="666" width="18" height="8" fill="#077b00"/>
<rect x="377" y="674" width="18" height="8" fill="#006a10"/>
<rect x="377" y="682" width="18" height="8" fill="#004738"/>
<rect x="377" y="690" width="18" height="128" fill="#0a000a"/>
<rect x="395" y="170" width="18" height="40" fill="#290029"/>
<rect x="395" y="210" width="18" height="8" fill="#2f002f"/>
<rect x="395" y="218" width="18" height="8" fill="#360036"/>
<rect x="395" y="226" width="18" height="8" fill="#3d003d"/>
<rect x="395" y="234" width="18" height="8" fill="#390048"/>
<rect x="395" y="242" width="18" height="8" fill="#2e0054"/>
<rect x="395" y="250" width="18" height="8" fill="#210063"/>
<rect x="395" y="258" width="18" height="8" fill="#120073"/>
<rect x="395" y="266" width="18" height="8" fill="#000088"/>
<rect x="395" y="274" width="18" height="8" fill="#002c56"/>
<rect x="395" y="282" width="18" height="8" fill="#006416"/>
<rect x="395" y="290" width="18" height="8" fill="#469400"/>
<rect x="395" y="298" width="18" height="8" fill="#aabc00"/>
<rect x="395" y="306" width="18" height="8" fill="#c8b300"/>
<rect x="395" y="314" width="18" height="8" fill="#c86f00"/>
<rect x="395" y="322" width="18" height="8" fill="#c83e00"/>
<rect x="395" y="330" width="18" height="8" fill="#c91800"/>
<rect x="395" y="338" width="18" height="56" fill="#d11400"/>
<rect x="395" y="394" width="18" height="8" fill="#c91800"/>
<rect x="395" y="402" width="18" height="8" fill="#c83e00"/>
<rect x="395" y="410" width="18" height="48" fill="#c85900"/>
<rect x="395" y="458" width="18" height="8" fill="#c85100"/>
<rect x="395" y="466" width="18" height="8" fill="#c82700"/>
<rect x="395" y="474" width="18" height="8" fill="#d01500"/>
<rect x="395" y="482" width="18" height="8" fill="#d11400"/>
<rect x="395" y="490" width="18" height="8" fill="#d31300"/>
<rect x="395" y="498" width="18" height="8" fill="#d41300"/>
<rect x="395" y="506" width="18" height="8" fill="#d61200"/>
<rect x="395" y="514" width="18" height="16" fill="#d51200"/>
<rect x="395" y="530" width="18" height="16" fill="#d41300"/>
<rect x="395" y="546" width="18" height="16" fill="#d31300"/>
<rect x="395" y="562" width="18" height="8" fill="#c83e00"/>
<rect x="395" y="570" width="18" height="8" fill="#c86f00"/>
<rect x="395" y="578" width="18" height="8" fill="#c8a900"/>
<rect x="395" y="586" width="18" height="8" fill="#c8c800"/>
<rect x="395" y="594" width="18" height="8" fill="#aabc00"/>
<rect x="395" y="602" width="18" height="8" fill="#8cb000"/>
<rect x="395" y="610" width="18" height="8" fill="#6ba300"/>
<rect x="395" y="618" width="18" height="8" fill="#469400"/>
<rect x="395" y="626" width="18" height="8" fill="#238600"/>
<rect x="395" y="634" width="18" height="8" fill="#0e7d00"/>
<rect x="395" y="642" width="18" height="8" fill="#007800"/>
<rect x="395" y="650" width="18" height="8" fill="#006a10"/>
<rect x="395" y="658" width="18" height="8" fill="#005626"/>
<rect x="395" y="666" width="18" height="8" fill="#00443b"/>
<rect x="395" y="674" width="18" height="8" fill="#00364b"/>
<rect x="395" y="682" width="18" height="8" fill="#00285b"/>
<rect x="395" y="690" width="18" height="8" fill="#000c7a"/>
<rect x="395" y="698" width="18" height="120" fill="#000000"/>
<rect x="413" y="170" width="18" height="48" fill="#200020"/>
<rect x="413" y="218" width="18" height="8" fill="#270027"/>
<rect x="413" y="226" width="18" height="8" fill="#2e002e"/>
<rect x="413" y="234" width="18" height="8" fill="#380038"/>
<rect x="413" y="242" width="18" height="8" fill="#3d0044"/>
<rect x="413" y="250" width="18" height="8" fill="#320050"/>
<rect x="413" y="258" width="18" height="8" fill="#210063"/>
<rect x="413" y="266" width="18" height="8" fill="#09007e"/>
<rect x="413" y="274" width="18" height="8" fill="#001372"/>
<rect x="413" y="282" width="18" height="8" fill="#004836"/>
<rect x="413" y="290" width="18" height="8" fill="#0e7d00"/>
<rect x="413" y="298" width="18" height="8" fill="#6ba300"/>
<rect x="413" y="306" width="18" height="8" fill="#bdc300"/>
<rect x="413" y="314" width="18" height="8" fill="#c8b300"/>
<rect x="413" y="322" width="18" height="8" fill="#c88200"/>
<rect x="413" y="330" width="18" height="8" fill="#c85d00"/>
<rect x="413" y="338" width="18" height="8" fill="#c83e00"/>
<rect x="413" y="346" width="18" height="48" fill="#c82300"/>
<rect x="413" y="394" width="18" height="8" fill="#c83e00"/>
<rect x="413" y="402" width="18" height="8" fill="#c85d00"/>
<rect x="413" y="410" width="18" height="64" fill="#c86f00"/>
<rect x="413" y="474" width="18" height="8" fill="#c86700"/>
<rect x="413" y="482" width="18" height="8" fill="#c85800"/>
<rect x="413" y="490" width="18" height="8" fill="#c83f00"/>
<rect x="413" y="498" width="18" height="8" fill="#c81e00"/>
<rect x="413" y="506" width="18" height="48" fill="#c91800"/>
<rect x="413" y="554" width="18" height="8" fill="#c82200"/>
<rect x="413" y="562" width="18" height="8" fill="#c86700"/>
<rect x="413" y="570" width="18" height="8" fill="#c89b00"/>
<rect x="413" y="578" width="18" height="8" fill="#c8c800"/>
<rect x="413" y="586" width="18" height="8" fill="#9ab500"/>
<rect x="413" y="594" width="18" height="8" fill="#64a000"/>
<rect x="413" y="602" width="18" height="8" fill="#358d00"/>
<rect x="413" y="610" width="18" height="8" fill="#0e7d00"/>
<rect x="413" y="618" width="18" height="8" fill="#007503"/>
<rect x="413" y="626" width="18" height="8" fill="#006416"/>
<rect x="413" y="634" width="18" height="8" fill="#00522b"/>
<rect x="413" y="642" width="18" height="8" fill="#00443b"/>
<rect x="413" y="650" width="18" height="8" fill="#00364b"/>
<rect x="413" y="658" width="18" height="8" fill="#002b57"/>
<rect x="413" y="666" width="18" height="8" fill="#001d67"/>
<rect x="413" y="674" width="18" height="8" fill="#000f77"/>
<rect x="413" y="682" width="18" height="8" fill="#00087f"/>
<rect x="413" y="690" width="18" height="8" fill="#000286"/>
<rect x="413" y="698" width="18" height="120" fill="#000000"/>
<rect x="431" y="170" width="18" height="32" fill="#1e001e"/>
<rect x="431" y="202" width="18" height="8" fill="#200020"/>
<rect x="431" y="210" width="18" height="8" fill="#250025"/>
<rect x="431" y="218" width="18" height="8" fill="#2b002b"/>
<rect x="431" y="226" width="18" height="8" fill="#300030"/>
<rect x="431" y="234" width="18" height="8" fill="#360036"/>
<rect x="431" y="242" width="18" height="8" fill="#3e003e"/>
<rect x="431" y="250" width="18" height="8" fill="#390048"/>
<rect x="431" y="258" width="18" height="8" fill="#2b0058"/>
<rect x="431" y="266" width="18" height="8" fill="#2d0055"/>
<rect x="431" y="274" width="18" height="8" fill="#140071"/>
<rect x="431" y="282" width="18" height="8" fill="#000088"/>
<rect x="431" y="290" width="18" height="8" fill="#003d43"/>
<rect x="431" y="298" width="18" height="8" fill="#007504"/>
<rect x="431" y="306" width="18" height="8" fill="#559a00"/>
<rect x="431" y="314" width="18" height="8" fill="#95b300"/>
<rect x="431" y="322" width="18" height="8" fill="#c6c700"/>
<rect x="431" y="330" width="18" height="8" fill="#c8a400"/>
<rect x="431" y="338" width="18" height="8" fill="#c89100"/>
<rect x="431" y="346" width="18" height="8" fill="#c86e00"/>
<rect x="431" y="354" width="18" height="8" fill="#c85400"/>
<rect x="431" y="362" width="18" height="8" fill="#c84700"/>
<rect x="431" y="370" width="18" height="8" fill="#c83b00"/>
<rect x="431" y="378" width="18" height="8" fill="#c82f00"/>
<rect x="431" y="386" width="18" height="8" fill="#c82100"/>
<rect x="431" y="394" width="18" height="8" fill="#c82400"/>
<rect x="431" y="402" width="18" height="8" fill="#c82800"/>
<rect x="431" y="410" width="18" height="8" fill="#c83c00"/>
<rect x="431" y="418" width="18" height="8" fill="#c85e00"/>
<rect x="431" y="426" width="18" height="8" fill="#c87600"/>
<rect x="431" y="434" width="18" height="8" fill="#c88d00"/>
<rect x="431" y="442" width="18" height="40" fill="#c89f00"/>
<rect x="431" y="482" width="18" height="8" fill="#c89d00"/>
<rect x="431" y="490" width="18" height="8" fill="#c89400"/>
<rect x="431" y="498" width="18" height="8" fill="#c88200"/>
<rect x="431" y="506" width="18" height="8" fill="#c86d00"/>
<rect x="431" y="514" width="18" height="8" fill="#c85500"/>
<rect x="431" y="522" width="18" height="8" fill="#c83500"/>
<rect x="431" y="530" width="18" height="24" fill="#c82a00"/>
<rect x="431" y="554" width="18" height="8" fill="#c83600"/>
<rect x="431" y="562" width="18" height="8" fill="#c86f00"/>
<rect x="431" y="570" width="18" height="8" fill="#c8a500"/>
<rect x="431" y="578" width="18" height="8" fill="#c1c500"/>
<rect x="431" y="586" width="18" height="8" fill="#93b300"/>
<rect x="431" y="594" width="18" height="8" fill="#469400"/>
<rect x="431" y="602" width="18" height="8" fill="#0e7d00"/>
<rect x="431" y="610" width="18" height="8" fill="#006a10"/>
<rect x="431" y="618" width="18" height="8" fill="#004738"/>
<rect x="431" y="626" width="18" height="8" fill="#002c56"/>
<rect x="431" y="634" width="18" height="8" fill="#001e66"/>
<rect x="431" y="642" width="18" height="8" fill="#000f77"/>
<rect x="431" y="650" width="18" height="8" fill="#000286"/>
<rect x="431" y="658" width="18" height="8" fill="#030085"/>
<rect x="431" y="666" width="18" height="8" fill="#060081"/>
<rect x="431" y="674" width="18" height="8" fill="#0e0079"/>
<rect x="431" y="682" width="18" height="8" fill="#140072"/>
<rect x="431" y="690" width="18" height="8" fill="#17006e"/>
<rect x="431" y="698" width="18" height="8" fill="#1f0065"/>
<rect x="431" y="706" width="18" height="112" fill="#000000"/>
<rect x="449" y="170" width="18" height="24" fill="#190019"/>
<rect x="449" y="194" width="18" height="8" fill="#1a001a"/>
<rect x="449" y="202" width="18" height="8" fill="#1f001f"/>
<rect x="449" y="210" width="18" height="8" fill="#230023"/>
<rect x="449" y="218" width="18" height="8" fill="#280028"/>
<rect x="449" y="226" width="18" height="8" fill="#2c002c"/>
<rect x="449" y="234" width="18" height="8" fill="#330033"/>
<rect x="449" y="242" width="18" height="8" fill="#3a003a"/>
<rect x="449" y="250" width="18" height="8" fill="#3f0041"/>
<rect x="449" y="258" width="18" height="8" fill="#3b0046"/>
<rect x="449" y="266" width="18" height="8" fill="#34004e"/>
<rect x="449" y="274" width="18" height="8" fill="#24005f"/>
<rect x="449" y="282" width="18" height="8" fill="#1e0066"/>
<rect x="449" y="290" width="18" height="8" fill="#010087"/>
<rect x="449" y="298" width="18" height="8" fill="#003e42"/>
<rect x="449" y="306" width="18" height="8" fill="#006f0a"/>
<rect x="449" y="314" width="18" height="8" fill="#2c8a00"/>
<rect x="449" y="322" width="18" height="8" fill="#629f00"/>
<rect x="449" y="330" width="18" height="8" fill="#a0b800"/>
<rect x="449" y="338" width="18" height="8" fill="#c7c800"/>
<rect x="449" y="346" width="18" height="8" fill="#c8a400"/>
<rect x="449" y="354" width="18" height="8" fill="#c89100"/>
<rect x="449" y="362" width="18" height="8" fill="#c87b00"/>
<rect x="449" y="370" width="18" height="8" fill="#c86200"/>
<rect x="449" y="378" width="18" height="8" fill="#c84a00"/>
<rect x="449" y="386" width="18" height="8" fill="#c82600"/>
<rect x="449" y="394" width="18" height="8" fill="#c82000"/>
<rect x="449" y="402" width="18" height="16" fill="#c81f00"/>
<rect x="449" y="418" width="18" height="8" fill="#c82a00"/>
<rect x="449" y="426" width="18" height="8" fill="#c84700"/>
<rect x="449" y="434" width="18" height="8" fill="#c86b00"/>
<rect x="449" y="442" width="18" height="8" fill="#c89400"/>
<rect x="449" y="450" width="18" height="8" fill="#c8b000"/>
<rect x="449" y="458" width="18" height="8" fill="#c8be00"/>
<rect x="449" y="466" width="18" height="16" fill="#c8c200"/>
<rect x="449" y="482" width="18" height="8" fill="#c8c000"/>
<rect x="449" y="490" width="18" height="8" fill="#c8b600"/>
<rect x="449" y="498" width="18" height="8" fill="#c8ad00"/>
<rect x="449" y="506" width="18" height="8" fill="#c8a200"/>
<rect x="449" y="514" width="18" height="8" fill="#c88e00"/>
<rect x="449" y="522" width="18" height="8" fill="#c87700"/>
<rect x="449" y="530" width="18" height="8" fill="#c85c00"/>
<rect x="449" y="538" width="18" height="8" fill="#c84c00"/>
<rect x="449" y="546" width="18" height="16" fill="#c84800"/>
<rect x="449" y="562" width="18" height="8" fill="#c85d00"/>
<rect x="449" y="570" width="18" height="8" fill="#c88600"/>
<rect x="449" y="578" width="18" height="8" fill="#c8a500"/>
<rect x="449" y="586" width="18" height="8" fill="#c1c500"/>
<rect x="449" y="594" width="18" height="8" fill="#74a700"/>
<rect x="449" y="602" width="18" height="8" fill="#238600"/>
<rect x="449" y="610" width="18" height="8" fill="#006e0b"/>
<rect x="449" y="618" width="18" height="8" fill="#004738"/>
<rect x="449" y="626" width="18" height="8" fill="#002163"/>
<rect x="449" y="634" width="18" height="8" fill="#000286"/>
<rect x="449" y="642" width="18" height="8" fill="#030085"/>
<rect x="449" y="650" width="18" height="8" fill="#0c007a"/>
<rect x="449" y="658" width="18" height="8" fill="#140072"/>
<rect x="449" y="666" width="18" height="8" fill="#1f0065"/>
<rect x="449" y="674" width="18" height="8" fill="#26005d"/>
<rect x="449" y="682" width="18" height="8" fill="#2a0059"/>
<rect x="449" y="690" width="18" height="8" fill="#320050"/>
<rect x="449" y="698" width="18" height="16" fill="#390048"/>
<rect x="449" y="714" width="18" height="104" fill="#000000"/>
<rect x="467" y="170" width="18" height="8" fill="#000000"/>
<rect x="467" y="178" width="18" height="32" fill="#150015"/>
<rect x="467" y="210" width="18" height="8" fill="#160016"/>
<rect x="467" y="218" width="18" height="8" fill="#1a001a"/>
<rect x="467" y="226" width="18" height="8" fill="#1d001d"/>
<rect x="467" y="234" width="18" height="8" fill="#210021"/>
<rect x="467" y="242" width="18" height="8" fill="#260026"/>
<rect x="467" y="250" width="18" height="8" fill="#2a002a"/>
<rect x="467" y="258" width="18" height="8" fill="#2e002e"/>
<rect x="467" y="266" width="18" height="8" fill="#330033"/>
<rect x="467" y="274" width="18" height="8" fill="#390039"/>
<rect x="467" y="282" width="18" height="8" fill="#400041"/>
<rect x="467" y="290" width="18" height="8" fill="#34004e"/>
<rect x="467" y="298" width="18" height="8" fill="#230061"/>
<rect x="467" y="306" width="18" height="8" fill="#000088"/>
<rect x="467" y="314" width="18" height="8" fill="#002360"/>
<rect x="467" y="322" width="18" height="8" fill="#005725"/>
<rect x="467" y="330" width="18" height="8" fill="#037900"/>
<rect x="467" y="338" width="18" height="8" fill="#559a00"/>
<rect x="467" y="346" width="18" height="8" fill="#95b300"/>
<rect x="467" y="354" width="18" height="8" fill="#c6c700"/>
<rect x="467" y="362" width="18" height="8" fill="#c8b800"/>
<rect x="467" y="370" width="18" height="8" fill="#c89c00"/>
<rect x="467" y="378" width="18" height="8" fill="#c88600"/>
<rect x="467" y="386" width="18" height="8" fill="#c87200"/>
<rect x="467" y="394" width="18" height="8" fill="#c85e00"/>
<rect x="467" y="402" width="18" height="8" fill="#c85000"/>
<rect x="467" y="410" width="18" height="24" fill="#c84800"/>
<rect x="467" y="434" width="18" height="8" fill="#c85800"/>
<rect x="467" y="442" width="18" height="8" fill="#c86f00"/>
<rect x="467" y="450" width="18" height="8" fill="#c88a00"/>
<rect x="467" y="458" width="18" height="8" fill="#c8a500"/>
<rect x="467" y="466" width="18" height="8" fill="#c8b900"/>
<rect x="467" y="474" width="18" height="8" fill="#c8c800"/>
<rect x="467" y="482" width="18" height="8" fill="#bdc300"/>
<rect x="467" y="490" width="18" height="16" fill="#b6c100"/>
<rect x="467" y="506" width="18" height="8" fill="#bdc300"/>
<rect x="467" y="514" width="18" height="8" fill="#c8c800"/>
<rect x="467" y="522" width="18" height="8" fill="#c8b900"/>
<rect x="467" y="530" width="18" height="8" fill="#c8a500"/>
<rect x="467" y="538" width="18" height="8" fill="#c89000"/>
<rect x="467" y="546" width="18" height="24" fill="#c88600"/>
<rect x="467" y="570" width="18" height="8" fill="#c88c00"/>
<rect x="467" y="578" width="18" height="8" fill="#c8a500"/>
<rect x="467" y="586" width="18" height="8" fill="#c8b900"/>
<rect x="467" y="594" width="18" height="8" fill="#b6c100"/>
<rect x="467" y="602" width="18" height="8" fill="#6ba300"/>
<rect x="467" y="610" width="18" height="8" fill="#0e7d00"/>
<rect x="467" y="618" width="18" height="8" fill="#005626"/>
<rect x="467" y="626" width="18" height="8" fill="#001e66"/>
<rect x="467" y="634" width="18" height="8" fill="#000286"/>
<rect x="467" y="642" width="18" height="8" fill="#09007e"/>
<rect x="467" y="650" width="18" height="8" fill="#140072"/>
<rect x="467" y="658" width="18" height="8" fill="#1f0065"/>
<rect x="467" y="666" width="18" height="8" fill="#2a0059"/>
<rect x="467" y="674" width="18" height="8" fill="#320050"/>
<rect x="467" y="682" width="18" height="8" fill="#390048"/>
<rect x="467" y="690" width="18" height="24" fill="#3f003f"/>
<rect x="467" y="714" width="18" height="8" fill="#3d003d"/>
<rect x="467" y="722" width="18" height="8" fill="#3c003c"/>
<rect x="467" y="730" width="18" height="88" fill="#000000"/>
<rect x="485" y="170" width="18" height="24" fill="#000000"/>
<rect x="485" y="194" width="18" height="40" fill="#110011"/>
<rect x="485" y="234" width="18" height="8" fill="#140014"/>
<rect x="485" y="242" width="18" height="8" fill="#170017"/>
<rect x="485" y="250" width="18" height="8" fill="#1b001b"/>
<rect x="485" y="258" width="18" height="8" fill="#1e001e"/>
<rect x="485" y="266" width="18" height="8" fill="#210021"/>
<rect x="485" y="274" width="18" height="8" fill="#250025"/>
<rect x="485" y="282" width="18" height="8" fill="#290029"/>
<rect x="485" y="290" width="18" height="8" fill="#2e002e"/>
<rect x="485" y="298" width="18" height="8" fill="#370037"/>
<rect x="485" y="306" width="18" height="8" fill="#400040"/>
<rect x="485" y="314" width="18" height="8" fill="#310051"/>
<rect x="485" y="322" width="18" height="8" fill="#000088"/>
<rect x="485" y="330" width="18" height="8" fill="#001274"/>
<rect x="485" y="338" width="18" height="8" fill="#003a46"/>
<rect x="485" y="346" width="18" height="8" fill="#027900"/>
<rect x="485" y="354" width="18" height="8" fill="#3f9100"/>
<rect x="485" y="362" width="18" height="8" fill="#89af00"/>
<rect x="485" y="370" width="18" height="8" fill="#b4c000"/>
<rect x="485" y="378" width="18" height="8" fill="#c8c400"/>
<rect x="485" y="386" width="18" height="8" fill="#c8ab00"/>
<rect x="485" y="394" width="18" height="8" fill="#c89b00"/>
<rect x="485" y="402" width="18" height="8" fill="#c88700"/>
<rect x="485" y="410" width="18" height="8" fill="#c87300"/>
<rect x="485" y="418" width="18" height="8" fill="#c85f00"/>
<rect x="485" y="426" width="18" height="24" fill="#c85d00"/>
<rect x="485" y="450" width="18" height="8" fill="#c87c00"/>
<rect x="485" y="458" width="18" height="8" fill="#c89000"/>
<rect x="485" y="466" width="18" height="8" fill="#c8a900"/>
<rect x="485" y="474" width="18" height="8" fill="#c8c800"/>
<rect x="485" y="482" width="18" height="8" fill="#afbe00"/>
<rect x="485" y="490" width="18" height="8" fill="#93b300"/>
<rect x="485" y="498" width="18" height="24" fill="#82ac00"/>
<rect x="485" y="522" width="18" height="8" fill="#93b300"/>
<rect x="485" y="530" width="18" height="8" fill="#aabc00"/>
<rect x="485" y="538" width="18" height="8" fill="#bdc300"/>
<rect x="485" y="546" width="18" height="8" fill="#c8c800"/>
<rect x="485" y="554" width="18" height="8" fill="#c8b900"/>
<rect x="485" y="562" width="18" height="16" fill="#c8b300"/>
<rect x="485" y="578" width="18" height="8" fill="#c8b900"/>
<rect x="485" y="586" width="18" height="8" fill="#c8c800"/>
<rect x="485" y="594" width="18" height="8" fill="#b6c100"/>
<rect x="485" y="602" width="18" height="8" fill="#82ac00"/>
<rect x="485" y="610" width="18" height="8" fill="#358d00"/>
<rect x="485" y="618" width="18" height="8" fill="#006a10"/>
<rect x="485" y="626" width="18" height="8" fill="#002c56"/>
<rect x="485" y="634" width="18" height="8" fill="#000286"/>
<rect x="485" y="642" width="18" height="8" fill="#0c007a"/>
<rect x="485" y="650" width="18" height="8" fill="#1f0065"/>
<rect x="485" y="658" width="18" height="8" fill="#320050"/>
<rect x="485" y="666" width="18" height="8" fill="#3b0045"/>
<rect x="485" y="674" width="18" height="8" fill="#3f003f"/>
<rect x="485" y="682" width="18" height="24" fill="#3c003c"/>
<rect x="485" y="706" width="18" height="8" fill="#3a003a"/>
<rect x="485" y="714" width="18" height="8" fill="#360036"/>
<rect x="485" y="722" width="18" height="8" fill="#340034"/>
<rect x="485" y="730" width="18" height="8" fill="#310031"/>
<rect x="485" y="738" width="18" height="80" fill="#000000"/>
<rect x="503" y="170" width="18" height="32" fill="#000000"/>
<rect x="503" y="202" width="18" height="48" fill="#0f000f"/>
<rect x="503" y="250" width="18" height="8" fill="#100010"/>
<rect x="503" y="258" width="18" height="8" fill="#130013"/>
<rect x="503" y="266" width="18" height="8" fill="#150015"/>
<rect x="503" y="274" width="18" height="8" fill="#190019"/>
<rect x="503" y="282" width="18" height="8" fill="#1d001d"/>
<rect x="503" y="290" width="18" height="8" fill="#220022"/>
<rect x="503" y="298" width="18" height="8" fill="#2c002c"/>
<rect x="503" y="306" width="18" height="8" fill="#3d003d"/>
<rect x="503" y="314" width="18" height="8" fill="#390048"/>
<rect x="503" y="322" width="18" height="8" fill="#2a0058"/>
<rect x="503" y="330" width="18" height="8" fill="#150071"/>
<rect x="503" y="338" width="18" height="8" fill="#000384"/>
<rect x="503" y="346" width="18" height="8" fill="#002162"/>
<rect x="503" y="354" width="18" height="8" fill="#005627"/>
<rect x="503" y="362" width="18" height="8" fill="#117f00"/>
<rect x="503" y="370" width="18" height="8" fill="#479500"/>
<rect x="503" y="378" width="18" height="8" fill="#82ac00"/>
<rect x="503" y="386" width="18" height="8" fill="#aebd00"/>
<rect x="503" y="394" width="18" height="8" fill="#c7c800"/>
<rect x="503" y="402" width="18" height="8" fill="#c8b500"/>
<rect x="503" y="410" width="18" height="8" fill="#c8a600"/>
<rect x="503" y="418" width="18" height="8" fill="#c89300"/>
<rect x="503" y="426" width="18" height="8" fill="#c88800"/>
<rect x="503" y="434" width="18" height="8" fill="#c88c00"/>
<rect x="503" y="442" width="18" height="8" fill="#c89000"/>
<rect x="503" y="450" width="18" height="8" fill="#c8a500"/>
<rect x="503" y="458" width="18" height="8" fill="#c8b300"/>
<rect x="503" y="466" width="18" height="8" fill="#c8c200"/>
<rect x="503" y="474" width="18" height="8" fill="#b6c100"/>
<rect x="503" y="482" width="18" height="8" fill="#9ab500"/>
<rect x="503" y="490" width="18" height="8" fill="#7ba900"/>
<rect x="503" y="498" width="18" height="8" fill="#64a000"/>
<rect x="503" y="506" width="18" height="24" fill="#589b00"/>
<rect x="503" y="530" width="18" height="8" fill="#64a000"/>
<rect x="503" y="538" width="18" height="8" fill="#74a700"/>
<rect x="503" y="546" width="18" height="8" fill="#82ac00"/>
<rect x="503" y="554" width="18" height="16" fill="#93b300"/>
<rect x="503" y="570" width="18" height="16" fill="#9ab500"/>
<rect x="503" y="586" width="18" height="8" fill="#93b300"/>
<rect x="503" y="594" width="18" height="8" fill="#7ba900"/>
<rect x="503" y="602" width="18" height="8" fill="#589b00"/>
<rect x="503" y="610" width="18" height="8" fill="#238600"/>
<rect x="503" y="618" width="18" height="8" fill="#005428"/>
<rect x="503" y="626" width="18" height="8" fill="#00275c"/>
<rect x="503" y="634" width="18" height="8" fill="#000682"/>
<rect x="503" y="642" width="18" height="8" fill="#0d0079"/>
<rect x="503" y="650" width="18" height="8" fill="#1d0068"/>
<rect x="503" y="658" width="18" height="8" fill="#2b0058"/>
<rect x="503" y="666" width="18" height="8" fill="#380049"/>
<rect x="503" y="674" width="18" height="8" fill="#3f003f"/>
<rect x="503" y="682" width="18" height="8" fill="#3c003c"/>
<rect x="503" y="690" width="18" height="8" fill="#3a003a"/>
<rect x="503" y="698" width="18" height="8" fill="#370037"/>
<rect x="503" y="706" width="18" height="8" fill="#340034"/>
<rect x="503" y="714" width="18" height="8" fill="#300030"/>
<rect x="503" y="722" width="18" height="8" fill="#2d002d"/>
<rect x="503" y="730" width="18" height="8" fill="#2c002c"/>
<rect x="503" y="738" width="18" height="8" fill="#2a002a"/>
<rect x="503" y="746" width="18" height="8" fill="#290029"/>
<rect x="503" y="754" width="18" height="64" fill="#000000"/>
<rect x="521" y="170" width="18" height="48" fill="#000000"/>
<rect x="521" y="218" width="18" height="56" fill="#0d000d"/>
<rect x="521" y="274" width="18" height="8" fill="#100010"/>
<rect x="521" y="282" width="18" height="8" fill="#140014"/>
<rect x="521" y="290" width="18" height="16" fill="#1a001a"/>
<rect x="521" y="306" width="18" height="8" fill="#1d001d"/>
<rect x="521" y="314" width="18" height="8" fill="#260026"/>
<rect x="521" y="322" width="18" height="8" fill="#320032"/>
<rect x="521" y="330" width="18" height="8" fill="#3f003f"/>
<rect x="521" y="338" width="18" height="8" fill="#36004b"/>
<rect x="521" y="346" width="18" height="8" fill="#1f0065"/>
<rect x="521" y="354" width="18" height="8" fill="#0b007b"/>
<rect x="521" y="362" width="18" height="8" fill="#000483"/>
<rect x="521" y="370" width="18" height="8" fill="#002e54"/>
<rect x="521" y="378" width="18" height="8" fill="#00601b"/>
<rect x="521" y="386" width="18" height="8" fill="#0c7d00"/>
<rect x="521" y="394" width="18" height="8" fill="#439300"/>
<rect x="521" y="402" width="18" height="8" fill="#7eaa00"/>
<rect x="521" y="410" width="18" height="8" fill="#a6ba00"/>
<rect x="521" y="418" width="18" height="8" fill="#bec400"/>
<rect x="521" y="426" width="18" height="8" fill="#c7c800"/>
<rect x="521" y="434" width="18" height="24" fill="#c8c800"/>
<rect x="521" y="458" width="18" height="8" fill="#c1c500"/>
<rect x="521" y="466" width="18" height="8" fill="#bdc300"/>
<rect x="521" y="474" width="18" height="8" fill="#9ab500"/>
<rect x="521" y="482" width="18" height="8" fill="#74a700"/>
<rect x="521" y="490" width="18" height="8" fill="#469400"/>
<rect x="521" y="498" width="18" height="8" fill="#2a8900"/>
<rect x="521" y="506" width="18" height="8" fill="#1e8400"/>
<rect x="521" y="514" width="18" height="8" fill="#198200"/>
<rect x="521" y="522" width="18" height="24" fill="#127f00"/>
<rect x="521" y="546" width="18" height="8" fill="#198200"/>
<rect x="521" y="554" width="18" height="8" fill="#238600"/>
<rect x="521" y="562" width="18" height="8" fill="#2a8900"/>
<rect x="521" y="570" width="18" height="24" fill="#358d00"/>
<rect x="521" y="594" width="18" height="8" fill="#238600"/>
<rect x="521" y="602" width="18" height="8" fill="#0e7d00"/>
<rect x="521" y="610" width="18" height="8" fill="#006416"/>
<rect x="521" y="618" width="18" height="8" fill="#003948"/>
<rect x="521" y="626" width="18" height="8" fill="#001670"/>
<rect x="521" y="634" width="18" height="8" fill="#010087"/>
<rect x="521" y="642" width="18" height="8" fill="#140071"/>
<rect x="521" y="650" width="18" height="8" fill="#27005d"/>
<rect x="521" y="658" width="18" height="8" fill="#36004b"/>
<rect x="521" y="666" width="18" height="8" fill="#3f0041"/>
<rect x="521" y="674" width="18" height="8" fill="#3a003a"/>
<rect x="521" y="682" width="18" height="8" fill="#360036"/>
<rect x="521" y="690" width="18" height="8" fill="#310031"/>
<rect x="521" y="698" width="18" height="8" fill="#2c002c"/>
<rect x="521" y="706" width="18" height="8" fill="#2a002a"/>
<rect x="521" y="714" width="18" height="8" fill="#270027"/>
<rect x="521" y="722" width="18" height="16" fill="#250025"/>
<rect x="521" y="738" width="18" height="8" fill="#240024"/>
<rect x="521" y="746" width="18" height="16" fill="#230023"/>
<rect x="521" y="762" width="18" height="8" fill="#220022"/>
<rect x="521" y="770" width="18" height="48" fill="#000000"/>
<rect x="539" y="170" width="18" height="64" fill="#000000"/>
<rect x="539" y="234" width="18" height="56" fill="#0c000c"/>
<rect x="539" y="290" width="18" height="24" fill="#150015"/>
<rect x="539" y="314" width="18" height="8" fill="#170017"/>
<rect x="539" y="322" width="18" height="8" fill="#1d001d"/>
<rect x="539" y="330" width="18" height="8" fill="#240024"/>
<rect x="539" y="338" width="18" height="8" fill="#2d002d"/>
<rect x="539" y="346" width="18" height="8" fill="#370037"/>
<rect x="539" y="354" width="18" height="8" fill="#3b0046"/>
<rect x="539" y="362" width="18" height="8" fill="#2c0056"/>
<rect x="539" y="370" width="18" height="8" fill="#17006e"/>
<rect x="539" y="378" width="18" height="8" fill="#010087"/>
<rect x="539" y="386" width="18" height="8" fill="#000e78"/>
<rect x="539" y="394" width="18" height="8" fill="#003849"/>
<rect x="539" y="402" width="18" height="8" fill="#00611a"/>
<rect x="539" y="410" width="18" height="8" fill="#097c00"/>
<rect x="539" y="418" width="18" height="8" fill="#208500"/>
<rect x="539" y="426" width="18" height="8" fill="#328c00"/>
<rect x="539" y="434" width="18" height="8" fill="#449300"/>
<rect x="539" y="442" width="18" height="16" fill="#469400"/>
<rect x="539" y="458" width="18" height="8" fill="#419200"/>
<rect x="539" y="466" width="18" height="8" fill="#358d00"/>
<rect x="539" y="474" width="18" height="8" fill="#238600"/>
<rect x="539" y="482" width="18" height="8" fill="#127f00"/>
<rect x="539" y="490" width="18" height="8" fill="#007800"/>
<rect x="539" y="498" width="18" height="8" fill="#006e0b"/>
<rect x="539" y="506" width="18" height="8" fill="#006416"/>
<rect x="539" y="514" width="18" height="8" fill="#005c20"/>
<rect x="539" y="522" width="18" height="72" fill="#005528"/>
<rect x="539" y="594" width="18" height="8" fill="#004738"/>
<rect x="539" y="602" width="18" height="8" fill="#003a46"/>
<rect x="539" y="610" width="18" height="8" fill="#002c56"/>
<rect x="539" y="618" width="18" height="8" fill="#000780"/>
<rect x="539" y="626" width="18" height="8" fill="#070081"/>
<rect x="539" y="634" width="18" height="8" fill="#150070"/>
<rect x="539" y="642" width="18" height="8" fill="#26005d"/>
<rect x="539" y="650" width="18" height="8" fill="#390047"/>
<rect x="539" y="658" width="18" height="8" fill="#3d003d"/>
<rect x="539" y="666" width="18" height="8" fill="#340034"/>
<rect x="539" y="674" width="18" height="8" fill="#2c002c"/>
<rect x="539" y="682" width="18" height="8" fill="#280028"/>
<rect x="539" y="690" width="18" height="8" fill="#250025"/>
<rect x="539" y="698" width="18" height="88" fill="#220022"/>
<rect x="539" y="786" width="18" height="32" fill="#000000"/>
<rect x="557" y="170" width="18" height="80" fill="#000000"/>
<rect x="557" y="250" width="18" height="40" fill="#0b000b"/>
<rect x="557" y="290" width="18" height="32" fill="#110011"/>
<rect x="557" y="322" width="18" height="8" fill="#130013"/>
<rect x="557" y="330" width="18" height="8" fill="#170017"/>
<rect x="557" y="338" width="18" height="8" fill="#1b001b"/>
<rect x="557" y="346" width="18" height="8" fill="#1f001f"/>
<rect x="557" y="354" width="18" height="8" fill="#240024"/>
<rect x="557" y="362" width="18" height="8" fill="#2d002d"/>
<rect x="557" y="370" width="18" height="8" fill="#360036"/>
<rect x="557" y="378" width="18" height="8" fill="#3f003f"/>
<rect x="557" y="386" width="18" height="8" fill="#36004c"/>
<rect x="557" y="394" width="18" height="8" fill="#200064"/>
<rect x="557" y="402" width="18" height="8" fill="#0e0079"/>
<rect x="557" y="410" width="18" height="8" fill="#000088"/>
<rect x="557" y="418" width="18" height="8" fill="#000d79"/>
<rect x="557" y="426" width="18" height="8" fill="#001e66"/>
<rect x="557" y="434" width="18" height="8" fill="#003749"/>
<rect x="557" y="442" width="18" height="32" fill="#004040"/>
<rect x="557" y="474" width="18" height="8" fill="#003a46"/>
<rect x="557" y="482" width="18" height="8" fill="#002c56"/>
<rect x="557" y="490" width="18" height="8" fill="#001e66"/>
<rect x="557" y="498" width="18" height="8" fill="#00166f"/>
<rect x="557" y="506" width="18" height="8" fill="#000f77"/>
<rect x="557" y="514" width="18" height="8" fill="#000582"/>
<rect x="557" y="522" width="18" height="48" fill="#000484"/>
<rect x="557" y="570" width="18" height="32" fill="#000286"/>
<rect x="557" y="602" width="18" height="8" fill="#030085"/>
<rect x="557" y="610" width="18" height="8" fill="#09007e"/>
<rect x="557" y="618" width="18" height="8" fill="#18006d"/>
<rect x="557" y="626" width="18" height="8" fill="#2a0058"/>
<rect x="557" y="634" width="18" height="8" fill="#380049"/>
<rect x="557" y="642" width="18" height="8" fill="#3e003e"/>
<rect x="557" y="650" width="18" height="8" fill="#370037"/>
<rect x="557" y="658" width="18" height="8" fill="#250025"/>
<rect x="557" y="666" width="18" height="136" fill="#220022"/>
<rect x="557" y="802" width="18" height="16" fill="#000000"/>
<rect x="575" y="170" width="18" height="96" fill="#000000"/>
<rect x="575" y="266" width="18" height="72" fill="#0d000d"/>
<rect x="575" y="338" width="18" height="8" fill="#0f000f"/>
<rect x="575" y="346" width="18" height="8" fill="#120012"/>
<rect x="575" y="354" width="18" height="8" fill="#160016"/>
<rect x="575" y="362" width="18" height="8" fill="#180018"/>
<rect x="575" y="370" width="18" height="8" fill="#1b001b"/>
<rect x="575" y="378" width="18" height="8" fill="#1f001f"/>
<rect x="575" y="386" width="18" height="8" fill="#230023"/>
<rect x="575" y="394" width="18" height="8" fill="#280028"/>
<rect x="575" y="402" width="18" height="8" fill="#2e002e"/>
<rect x="575" y="410" width="18" height="8" fill="#370037"/>
<rect x="575" y="418" width="18" height="8" fill="#3b0046"/>
<rect x="575" y="426" width="18" height="8" fill="#2c0056"/>
<rect x="575" y="434" width="18" height="8" fill="#24005f"/>
<rect x="575" y="442" width="18" height="8" fill="#210063"/>
<rect x="575" y="450" width="18" height="8" fill="#17006e"/>
<rect x="575" y="458" width="18" height="144" fill="#140072"/>
<rect x="575" y="602" width="18" height="8" fill="#17006e"/>
<rect x="575" y="610" width="18" height="8" fill="#2a0059"/>
<rect x="575" y="618" width="18" height="8" fill="#2f0054"/>
<rect x="575" y="626" width="18" height="8" fill="#37004a"/>
<rect x="575" y="634" width="18" height="8" fill="#400040"/>
<rect x="575" y="642" width="18" height="8" fill="#380038"/>
<rect x="575" y="650" width="18" height="8" fill="#330033"/>
<rect x="575" y="658" width="18" height="8" fill="#2e002e"/>
<rect x="575" y="666" width="18" height="8" fill="#2b002b"/>
<rect x="575" y="674" width="18" height="8" fill="#280028"/>
<rect x="575" y="682" width="18" height="8" fill="#260026"/>
<rect x="575" y="690" width="18" height="128" fill="#250025"/>
<rect x="593" y="170" width="18" height="112" fill="#000000"/>
<rect x="593" y="282" width="18" height="8" fill="#140014"/>
<rect x="593" y="290" width="18" height="16" fill="#0e000e"/>
<rect x="593" y="306" width="18" height="8" fill="#0f000f"/>
<rect x="593" y="314" width="18" height="16" fill="#100010"/>
<rect x="593" y="330" width="18" height="8" fill="#110011"/>
<rect x="593" y="338" width="18" height="8" fill="#120012"/>
<rect x="593" y="346" width="18" height="8" fill="#130013"/>
<rect x="593" y="354" width="18" height="16" fill="#140014"/>
<rect x="593" y="370" width="18" height="8" fill="#160016"/>
<rect x="593" y="378" width="18" height="8" fill="#180018"/>
<rect x="593" y="386" width="18" height="8" fill="#1b001b"/>
<rect x="593" y="394" width="18" height="8" fill="#1d001d"/>
<rect x="593" y="402" width="18" height="8" fill="#200020"/>
<rect x="593" y="410" width="18" height="8" fill="#230023"/>
<rect x="593" y="418" width="18" height="8" fill="#270027"/>
<rect x="593" y="426" width="18" height="8" fill="#2a002a"/>
<rect x="593" y="434" width="18" height="8" fill="#310031"/>
<rect x="593" y="442" width="18" height="8" fill="#370037"/>
<rect x="593" y="450" width="18" height="8" fill="#3e003e"/>
<rect x="593" y="458" width="18" height="144" fill="#3f0041"/>
<rect x="593" y="602" width="18" height="8" fill="#400040"/>
<rect x="593" y="610" width="18" height="8" fill="#3e003e"/>
<rect x="593" y="618" width="18" height="8" fill="#3c003c"/>
<rect x="593" y="626" width="18" height="8" fill="#390039"/>
<rect x="593" y="634" width="18" height="8" fill="#360036"/>
<rect x="593" y="642" width="18" height="8" fill="#320032"/>
<rect x="593" y="650" width="18" height="8" fill="#2e002e"/>
<rect x="593" y="658" width="18" height="8" fill="#2a002a"/>
<rect x="593" y="666" width="18" height="8" fill="#280028"/>
<rect x="593" y="674" width="18" height="8" fill="#260026"/>
<rect x="593" y="682" width="18" height="8" fill="#250025"/>
<rect x="593" y="690" width="18" height="8" fill="#230023"/>
<rect x="593" y="698" width="18" height="120" fill="#220022"/>
<rect x="611" y="170" width="18" height="120" fill="#000000"/>
<rect x="611" y="290" width="18" height="8" fill="#0e000e"/>
<rect x="611" y="298" width="18" height="8" fill="#090009"/>
<rect x="611" y="306" width="18" height="8" fill="#0a000a"/>
<rect x="611" y="314" width="18" height="8" fill="#0b000b"/>
<rect x="611" y="322" width="18" height="16" fill="#0c000c"/>
<rect x="611" y="338" width="18" height="8" fill="#0d000d"/>
<rect x="611" y="346" width="18" height="8" fill="#0e000e"/>
<rect x="611" y="354" width="18" height="16" fill="#0f000f"/>
<rect x="611" y="370" width="18" height="8" fill="#100010"/>
<rect x="611" y="378" width="18" height="8" fill="#110011"/>
<rect x="611" y="386" width="18" height="8" fill="#120012"/>
<rect x="611" y="394" width="18" height="8" fill="#130013"/>
<rect x="611" y="402" width="18" height="8" fill="#140014"/>
<rect x="611" y="410" width="18" height="8" fill="#160016"/>
<rect x="611" y="418" width="18" height="8" fill="#170017"/>
<rect x="611" y="426" width="18" height="8" fill="#180018"/>
<rect x="611" y="434" width="18" height="8" fill="#190019"/>
<rect x="611" y="442" width="18" height="8" fill="#1b001b"/>
<rect x="611" y="450" width="18" height="8" fill="#1c001c"/>
<rect x="611" y="458" width="18" height="16" fill="#1d001d"/>
<rect x="611" y="474" width="18" height="16" fill="#1e001e"/>
<rect x="611" y="490" width="18" height="8" fill="#1f001f"/>
<rect x="611" y="498" width="18" height="16" fill="#200020"/>
<rect x="611" y="514" width="18" height="16" fill="#210021"/>
<rect x="611" y="530" width="18" height="16" fill="#220022"/>
<rect x="611" y="546" width="18" height="8" fill="#230023"/>
<rect x="611" y="554" width="18" height="16" fill="#240024"/>
<rect x="611" y="570" width="18" height="72" fill="#250025"/>
<rect x="611" y="642" width="18" height="24" fill="#240024"/>
<rect x="611" y="666" width="18" height="16" fill="#230023"/>
<rect x="611" y="682" width="18" height="64" fill="#220022"/>
<rect x="611" y="746" width="18" height="56" fill="#230023"/>
<rect x="611" y="802" width="18" height="16" fill="#240024"/>
<rect x="629" y="170" width="18" height="128" fill="#000000"/>
<rect x="629" y="298" width="18" height="40" fill="#080008"/>
<rect x="629" y="338" width="18" height="32" fill="#090009"/>
<rect x="629" y="370" width="18" height="40" fill="#0a000a"/>
<rect x="629" y="410" width="18" height="24" fill="#0b000b"/>
<rect x="629" y="434" width="18" height="8" fill="#0c000c"/>
<rect x="629" y="442" width="18" height="8" fill="#0e000e"/>
<rect x="629" y="450" width="18" height="8" fill="#100010"/>
<rect x="629" y="458" width="18" height="8" fill="#110011"/>
<rect x="629" y="466" width="18" height="24" fill="#120012"/>
<rect x="629" y="490" width="18" height="16" fill="#130013"/>
<rect x="629" y="506" width="18" height="24" fill="#140014"/>
<rect x="629" y="530" width="18" height="16" fill="#150015"/>
<rect x="629" y="546" width="18" height="8" fill="#160016"/>
<rect x="629" y="554" width="18" height="8" fill="#170017"/>
<rect x="629" y="562" width="18" height="8" fill="#180018"/>
<rect x="629" y="570" width="18" height="16" fill="#190019"/>
<rect x="629" y="586" width="18" height="8" fill="#1a001a"/>
<rect x="629" y="594" width="18" height="8" fill="#1b001b"/>
<rect x="629" y="602" width="18" height="8" fill="#1c001c"/>
<rect x="629" y="610" width="18" height="8" fill="#1d001d"/>
<rect x="629" y="618" width="18" height="8" fill="#1e001e"/>
<rect x="629" y="626" width="18" height="16" fill="#1f001f"/>
<rect x="629" y="642" width="18" height="8" fill="#200020"/>
<rect x="629" y="650" width="18" height="16" fill="#210021"/>
<rect x="629" y="666" width="18" height="56" fill="#220022"/>
<rect x="629" y="722" width="18" height="72" fill="#230023"/>
<rect x="629" y="794" width="18" height="24" fill="#240024"/>
<rect x="647" y="170" width="18" height="128" fill="#000000"/>
<rect x="647" y="298" width="18" height="24" fill="#0b000b"/>
<rect x="647" y="322" width="18" height="40" fill="#0a000a"/>
<rect x="647" y="362" width="18" height="32" fill="#090009"/>
<rect x="647" y="394" width="18" height="8" fill="#0a000a"/>
<rect x="647" y="402" width="18" height="8" fill="#0b000b"/>
<rect x="647" y="410" width="18" height="16" fill="#0c000c"/>
<rect x="647" y="426" width="18" height="32" fill="#0d000d"/>
<rect x="647" y="458" width="18" height="16" fill="#0e000e"/>
<rect x="647" y="474" width="18" height="16" fill="#0f000f"/>
<rect x="647" y="490" width="18" height="16" fill="#100010"/>
<rect x="647" y="506" width="18" height="16" fill="#110011"/>
<rect x="647" y="522" width="18" height="16" fill="#120012"/>
<rect x="647" y="538" width="18" height="16" fill="#130013"/>
<rect x="647" y="554" width="18" height="24" fill="#140014"/>
<rect x="647" y="578" width="18" height="8" fill="#150015"/>
<rect x="647" y="586" width="18" height="16" fill="#160016"/>
<rect x="647" y="602" width="18" height="8" fill="#170017"/>
<rect x="647" y="610" width="18" height="16" fill="#180018"/>
<rect x="647" y="626" width="18" height="8" fill="#190019"/>
<rect x="647" y="634" width="18" height="8" fill="#1a001a"/>
<rect x="647" y="642" width="18" height="8" fill="#1b001b"/>
<rect x="647" y="650" width="18" height="16" fill="#1c001c"/>
<rect x="647" y="666" width="18" height="8" fill="#1d001d"/>
<rect x="647" y="674" width="18" height="8" fill="#1e001e"/>
<rect x="647" y="682" width="18" height="8" fill="#1f001f"/>
<rect x="647" y="690" width="18" height="8" fill="#200020"/>
<rect x="647" y="698" width="18" height="8" fill="#210021"/>
<rect x="647" y="706" width="18" height="16" fill="#220022"/>
<rect x="647" y="722" width="18" height="24" fill="#230023"/>
<rect x="647" y="746" width="18" height="24" fill="#240024"/>
<rect x="647" y="770" width="18" height="16" fill="#250025"/>
<rect x="647" y="786" width="18" height="24" fill="#260026"/>
<rect x="647" y="810" width="18" height="8" fill="#270027"/>
<rect x="665" y="170" width="18" height="128" fill="#000000"/>
<rect x="665" y="298" width="18" height="24" fill="#090009"/>
<rect x="665" y="322" width="18" height="80" fill="#080008"/>
<rect x="665" y="402" width="18" height="16" fill="#090009"/>
<rect x="665" y="418" width="18" height="8" fill="#0a000a"/>
<rect x="665" y="426" width="18" height="16" fill="#0b000b"/>
<rect x="665" y="442" width="18" height="16" fill="#0c000c"/>
<rect x="665" y="458" width="18" height="24" fill="#0d000d"/>
<rect x="665" y="482" width="18" height="24" fill="#0e000e"/>
<rect x="665" y="506" width="18" height="32" fill="#0f000f"/>
<rect x="665" y="538" width="18" height="24" fill="#100010"/>
<rect x="665" y="562" width="18" height="24" fill="#110011"/>
<rect x="665" y="586" width="18" height="8" fill="#120012"/>
<rect x="665" y="594" width="18" height="8" fill="#130013"/>
<rect x="665" y="602" width="18" height="8" fill="#140014"/>
<rect x="665" y="610" width="18" height="8" fill="#150015"/>
<rect x="665" y="618" width="18" height="8" fill="#160016"/>
<rect x="665" y="626" width="18" height="16" fill="#170017"/>
<rect x="665" y="642" width="18" height="8" fill="#180018"/>
<rect x="665" y="650" width="18" height="8" fill="#190019"/>
<rect x="665" y="658" width="18" height="8" fill="#1a001a"/>
<rect x="665" y="666" width="18" height="16" fill="#1b001b"/>
<rect x="665" y="682" width="18" height="8" fill="#1c001c"/>
<rect x="665" y="690" width="18" height="8" fill="#1d001d"/>
<rect x="665" y="698" width="18" height="16" fill="#1e001e"/>
<rect x="665" y="714" width="18" height="8" fill="#1f001f"/>
<rect x="665" y="722" width="18" height="8" fill="#200020"/>
<rect x="665" y="730" width="18" height="16" fill="#210021"/>
<rect x="665" y="746" width="18" height="8" fill="#220022"/>
<rect x="665" y="754" width="18" height="8" fill="#240024"/>
<rect x="665" y="762" width="18" height="8" fill="#250025"/>
<rect x="665" y="770" width="18" height="8" fill="#270027"/>
<rect x="665" y="778" width="18" height="8" fill="#280028"/>
<rect x="665" y="786" width="18" height="8" fill="#2a002a"/>
<rect x="665" y="794" width="18" height="8" fill="#2b002b"/>
<rect x="665" y="802" width="18" height="8" fill="#2d002d"/>
<rect x="665" y="810" width="18" height="8" fill="#2e002e"/>
<rect x="683" y="170" width="18" height="112" fill="#000000"/>
<rect x="683" y="282" width="18" height="56" fill="#130013"/>
<rect x="683" y="338" width="18" height="56" fill="#140014"/>
<rect x="683" y="394" width="18" height="16" fill="#150015"/>
<rect x="683" y="410" width="18" height="16" fill="#160016"/>
<rect x="683" y="426" width="18" height="16" fill="#170017"/>
<rect x="683" y="442" width="18" height="16" fill="#180018"/>
<rect x="683" y="458" width="18" height="24" fill="#190019"/>
<rect x="683" y="482" width="18" height="16" fill="#1a001a"/>
<rect x="683" y="498" width="18" height="24" fill="#1b001b"/>
<rect x="683" y="522" width="18" height="24" fill="#1c001c"/>
<rect x="683" y="546" width="18" height="24" fill="#1d001d"/>
<rect x="683" y="570" width="18" height="16" fill="#1e001e"/>
<rect x="683" y="586" width="18" height="16" fill="#1f001f"/>
<rect x="683" y="602" width="18" height="8" fill="#200020"/>
<rect x="683" y="610" width="18" height="8" fill="#210021"/>
<rect x="683" y="618" width="18" height="16" fill="#220022"/>
<rect x="683" y="634" width="18" height="8" fill="#230023"/>
<rect x="683" y="642" width="18" height="8" fill="#240024"/>
<rect x="683" y="650" width="18" height="16" fill="#250025"/>
<rect x="683" y="666" width="18" height="8" fill="#270027"/>
<rect x="683" y="674" width="18" height="8" fill="#280028"/>
<rect x="683" y="682" width="18" height="8" fill="#290029"/>
<rect x="683" y="690" width="18" height="8" fill="#2b002b"/>
<rect x="683" y="698" width="18" height="8" fill="#2c002c"/>
<rect x="683" y="706" width="18" height="8" fill="#2e002e"/>
<rect x="683" y="714" width="18" height="8" fill="#2f002f"/>
<rect x="683" y="722" width="18" height="8" fill="#310031"/>
<rect x="683" y="730" width="18" height="8" fill="#320032"/>
<rect x="683" y="738" width="18" height="8" fill="#340034"/>
<rect x="683" y="746" width="18" height="8" fill="#350035"/>
<rect x="683" y="754" width="18" height="8" fill="#360036"/>
<rect x="683" y="762" width="18" height="8" fill="#370037"/>
<rect x="683" y="770" width="18" height="8" fill="#390039"/>
<rect x="683" y="778" width="18" height="8" fill="#3a003a"/>
<rect x="683" y="786" width="18" height="8" fill="#3b003b"/>
<rect x="683" y="794" width="18" height="8" fill="#3c003c"/>
<rect x="683" y="802" width="18" height="8" fill="#3e003e"/>
<rect x="683" y="810" width="18" height="8" fill="#3f003f"/>
<rect x="701" y="170" width="18" height="96" fill="#000000"/>
<rect x="701" y="266" width="18" height="16" fill="#220022"/>
<rect x="701" y="282" width="18" height="16" fill="#230023"/>
<rect x="701" y="298" width="18" height="16" fill="#240024"/>
<rect x="701" y="314" width="18" height="16" fill="#250025"/>
<rect x="701" y="330" width="18" height="16" fill="#260026"/>
<rect x="701" y="346" width="18" height="16" fill="#270027"/>
<rect x="701" y="362" width="18" height="16" fill="#280028"/>
<rect x="701" y="378" width="18" height="16" fill="#290029"/>
<rect x="701" y="394" width="18" height="16" fill="#2a002a"/>
<rect x="701" y="410" width="18" height="8" fill="#2b002b"/>
<rect x="701" y="418" width="18" height="16" fill="#2c002c"/>
<rect x="701" y="434" width="18" height="16" fill="#2d002d"/>
<rect x="701" y="450" width="18" height="16" fill="#2e002e"/>
<rect x="701" y="466" width="18" height="16" fill="#2f002f"/>
<rect x="701" y="482" width="18" height="8" fill="#300030"/>
<rect x="701" y="490" width="18" height="16" fill="#310031"/>
<rect x="701" y="506" width="18" height="16" fill="#320032"/>
<rect x="701" y="522" width="18" height="16" fill="#330033"/>
<rect x="701" y="538" width="18" height="16" fill="#340034"/>
<rect x="701" y="554" width="18" height="8" fill="#350035"/>
<rect x="701" y="562" width="18" height="16" fill="#360036"/>
<rect x="701" y="578" width="18" height="16" fill="#370037"/>
<rect x="701" y="594" width="18" height="8" fill="#380038"/>
<rect x="701" y="602" width="18" height="24" fill="#3c003c"/>
<rect x="701" y="626" width="18" height="32" fill="#3d003d"/>
<rect x="701" y="658" width="18" height="32" fill="#3e003e"/>
<rect x="701" y="690" width="18" height="32" fill="#3f003f"/>
<rect x="701" y="722" width="18" height="8" fill="#400040"/>
<rect x="701" y="730" width="18" height="8" fill="#3e0042"/>
<rect x="701" y="738" width="18" height="8" fill="#3b0045"/>
<rect x="701" y="746" width="18" height="8" fill="#390048"/>
<rect x="701" y="754" width="18" height="8" fill="#36004c"/>
<rect x="701" y="762" width="18" height="8" fill="#32004f"/>
<rect x="701" y="770" width="18" height="8" fill="#2f0053"/>
<rect x="701" y="778" width="18" height="8" fill="#2c0056"/>
<rect x="701" y="786" width="18" height="8" fill="#290059"/>
<rect x="701" y="794" width="18" height="8" fill="#28005b"/>
<rect x="701" y="802" width="18" height="8" fill="#26005d"/>
<rect x="701" y="810" width="18" height="8" fill="#25005e"/>
<rect x="719" y="170" width="18" height="64" fill="#070007"/>
<rect x="719" y="234" width="18" height="8" fill="#380038"/>
<rect x="719" y="242" width="18" height="8" fill="#390039"/>
<rect x="719" y="250" width="18" height="8" fill="#3a003a"/>
<rect x="719" y="258" width="18" height="8" fill="#3b003b"/>
<rect x="719" y="266" width="18" height="16" fill="#3c003c"/>
<rect x="719" y="282" width="18" height="8" fill="#3d003d"/>
<rect x="719" y="290" width="18" height="8" fill="#3e003e"/>
<rect x="719" y="298" width="18" height="16" fill="#3f003f"/>
<rect x="719" y="314" width="18" height="8" fill="#400040"/>
<rect x="719" y="322" width="18" height="8" fill="#3f0041"/>
<rect x="719" y="330" width="18" height="8" fill="#3e0042"/>
<rect x="719" y="338" width="18" height="8" fill="#3d0043"/>
<rect x="719" y="346" width="18" height="8" fill="#3d0044"/>
<rect x="719" y="354" width="18" height="8" fill="#3c0045"/>
<rect x="719" y="362" width="18" height="8" fill="#3b0046"/>
<rect x="719" y="370" width="18" height="8" fill="#3a0046"/>
<rect x="719" y="378" width="18" height="8" fill="#390047"/>
<rect x="719" y="386" width="18" height="8" fill="#37004a"/>
<rect x="719" y="394" width="18" height="8" fill="#34004d"/>
<rect x="719" y="402" width="18" height="8" fill="#310051"/>
<rect x="719" y="410" width="18" height="8" fill="#2e0055"/>
<rect x="719" y="418" width="18" height="8" fill="#2b0058"/>
<rect x="719" y="426" width="18" height="8" fill="#2a0059"/>
<rect x="719" y="434" width="18" height="16" fill="#29005a"/>
<rect x="719" y="450" width="18" height="16" fill="#28005b"/>
<rect x="719" y="466" width="18" height="16" fill="#27005c"/>
<rect x="719" y="482" width="18" height="128" fill="#26005d"/>
<rect x="719" y="610" width="18" height="8" fill="#26005e"/>
<rect x="719" y="618" width="18" height="16" fill="#25005e"/>
<rect x="719" y="634" width="18" height="16" fill="#24005f"/>
<rect x="719" y="650" width="18" height="8" fill="#240060"/>
<rect x="719" y="658" width="18" height="8" fill="#230060"/>
<rect x="719" y="666" width="18" height="8" fill="#230061"/>
<rect x="719" y="674" width="18" height="8" fill="#220061"/>
<rect x="719" y="682" width="18" height="16" fill="#220062"/>
<rect x="719" y="698" width="18" height="8" fill="#210063"/>
<rect x="719" y="706" width="18" height="8" fill="#1f0065"/>
<rect x="719" y="714" width="18" height="8" fill="#1e0067"/>
<rect x="719" y="722" width="18" height="8" fill="#1c0068"/>
<rect x="719" y="730" width="18" height="8" fill="#1b006a"/>
<rect x="719" y="738" width="18" height="8" fill="#19006c"/>
<rect x="719" y="746" width="18" height="16" fill="#17006e"/>
<rect x="719" y="762" width="18" height="8" fill="#16006f"/>
<rect x="719" y="770" width="18" height="8" fill="#160070"/>
<rect x="719" y="778" width="18" height="8" fill="#150070"/>
<rect x="719" y="786" width="18" height="8" fill="#140071"/>
<rect x="719" y="794" width="18" height="8" fill="#140072"/>
<rect x="719" y="802" width="18" height="16" fill="#0a000a"/>
<rect x="737" y="170" width="18" height="40" fill="#070007"/>
<rect x="737" y="210" width="18" height="8" fill="#400040"/>
<rect x="737" y="218" width="18" height="16" fill="#3f0041"/>
<rect x="737" y="234" width="18" height="8" fill="#3e0042"/>
<rect x="737" y="242" width="18" height="8" fill="#3d0043"/>
<rect x="737" y="250" width="18" height="8" fill="#3d0044"/>
<rect x="737" y="258" width="18" height="8" fill="#3c0045"/>
<rect x="737" y="266" width="18" height="8" fill="#3b0045"/>
<rect x="737" y="274" width="18" height="8" fill="#3a0046"/>
<rect x="737" y="282" width="18" height="8" fill="#3a0047"/>
<rect x="737" y="290" width="18" height="8" fill="#390048"/>
<rect x="737" y="298" width="18" height="8" fill="#36004b"/>
<rect x="737" y="306" width="18" height="8" fill="#34004e"/>
<rect x="737" y="314" width="18" height="16" fill="#320050"/>
<rect x="737" y="330" width="18" height="8" fill="#300052"/>
<rect x="737" y="338" width="18" height="8" fill="#2c0056"/>
<rect x="737" y="346" width="18" height="8" fill="#28005a"/>
<rect x="737" y="354" width="18" height="8" fill="#25005f"/>
<rect x="737" y="362" width="18" height="8" fill="#220062"/>
<rect x="737" y="370" width="18" height="8" fill="#1f0065"/>
<rect x="737" y="378" width="18" height="8" fill="#1c0068"/>
<rect x="737" y="386" width="18" height="8" fill="#1a006b"/>
<rect x="737" y="394" width="18" height="8" fill="#17006e"/>
<rect x="737" y="402" width="18" height="8" fill="#16006f"/>
<rect x="737" y="410" width="18" height="8" fill="#150071"/>
<rect x="737" y="418" width="18" height="8" fill="#130072"/>
<rect x="737" y="426" width="18" height="8" fill="#120074"/>
<rect x="737" y="434" width="18" height="8" fill="#110075"/>
<rect x="737" y="442" width="18" height="328" fill="#100076"/>
<rect x="737" y="770" width="18" height="48" fill="#0a000a"/>
<rect x="755" y="170" width="18" height="24" fill="#070007"/>
<rect x="755" y="194" width="18" height="8" fill="#3c0045"/>
<rect x="755" y="202" width="18" height="8" fill="#390048"/>
<rect x="755" y="210" width="18" height="8" fill="#37004a"/>
<rect x="755" y="218" width="18" height="8" fill="#34004d"/>
<rect x="755" y="226" width="18" height="8" fill="#320050"/>
<rect x="755" y="234" width="18" height="8" fill="#300052"/>
<rect x="755" y="242" width="18" height="8" fill="#2d0055"/>
<rect x="755" y="250" width="18" height="8" fill="#2a0059"/>
<rect x="755" y="258" width="18" height="8" fill="#27005c"/>
<rect x="755" y="266" width="18" height="8" fill="#240060"/>
<rect x="755" y="274" width="18" height="8" fill="#210063"/>
<rect x="755" y="282" width="18" height="8" fill="#1e0066"/>
<rect x="755" y="290" width="18" height="8" fill="#1b006a"/>
<rect x="755" y="298" width="18" height="8" fill="#17006e"/>
<rect x="755" y="306" width="18" height="8" fill="#130073"/>
<rect x="755" y="314" width="18" height="8" fill="#0f0077"/>
<rect x="755" y="322" width="18" height="8" fill="#0b007c"/>
<rect x="755" y="330" width="18" height="8" fill="#070080"/>
<rect x="755" y="338" width="18" height="8" fill="#040083"/>
<rect x="755" y="346" width="18" height="8" fill="#030085"/>
<rect x="755" y="354" width="18" height="8" fill="#020086"/>
<rect x="755" y="362" width="18" height="8" fill="#000088"/>
<rect x="755" y="370" width="18" height="8" fill="#000286"/>
<rect x="755" y="378" width="18" height="8" fill="#000484"/>
<rect x="755" y="386" width="18" height="8" fill="#000a7c"/>
<rect x="755" y="394" width="18" height="8" fill="#001570"/>
<rect x="755" y="402" width="18" height="8" fill="#001b6a"/>
<rect x="755" y="410" width="18" height="8" fill="#001d68"/>
<rect x="755" y="418" width="18" height="8" fill="#001e66"/>
<rect x="755" y="426" width="18" height="8" fill="#002064"/>
<rect x="755" y="434" width="18" height="32" fill="#002163"/>
<rect x="755" y="466" width="18" height="8" fill="#001f65"/>
<rect x="755" y="474" width="18" height="8" fill="#001a6b"/>
<rect x="755" y="482" width="18" height="8" fill="#001670"/>
<rect x="755" y="490" width="18" height="8" fill="#001372"/>
<rect x="755" y="498" width="18" height="8" fill="#001175"/>
<rect x="755" y="506" width="18" height="8" fill="#000f77"/>
<rect x="755" y="514" width="18" height="8" fill="#000d7a"/>
<rect x="755" y="522" width="18" height="8" fill="#000a7c"/>
<rect x="755" y="530" width="18" height="8" fill="#00087f"/>
<rect x="755" y="538" width="18" height="8" fill="#000781"/>
<rect x="755" y="546" width="18" height="8" fill="#000583"/>
<rect x="755" y="554" width="18" height="8" fill="#000385"/>
<rect x="755" y="562" width="18" height="40" fill="#000286"/>
<rect x="755" y="602" width="18" height="16" fill="#030085"/>
<rect x="755" y="618" width="18" height="8" fill="#030084"/>
<rect x="755" y="626" width="18" height="8" fill="#040084"/>
<rect x="755" y="634" width="18" height="8" fill="#040083"/>
<rect x="755" y="642" width="18" height="8" fill="#050083"/>
<rect x="755" y="650" width="18" height="16" fill="#050082"/>
<rect x="755" y="666" width="18" height="8" fill="#060082"/>
<rect x="755" y="674" width="18" height="16" fill="#060081"/>
<rect x="755" y="690" width="18" height="24" fill="#070080"/>
<rect x="755" y="714" width="18" height="16" fill="#08007f"/>
<rect x="755" y="730" width="18" height="8" fill="#08007e"/>
<rect x="755" y="738" width="18" height="80" fill="#0a000a"/>
<rect x="773" y="170" width="18" height="8" fill="#070007"/>
<rect x="773" y="178" width="18" height="8" fill="#310051"/>
<rect x="773" y="186" width="18" height="8" fill="#2f0053"/>
<rect x="773" y="194" width="18" height="8" fill="#2e0054"/>
<rect x="773" y="202" width="18" height="8" fill="#2d0056"/>
<rect x="773" y="210" width="18" height="8" fill="#2b0058"/>
<rect x="773" y="218" width="18" height="8" fill="#29005a"/>
<rect x="773" y="226" width="18" height="8" fill="#26005d"/>
<rect x="773" y="234" width="18" height="8" fill="#230061"/>
<rect x="773" y="242" width="18" height="8" fill="#200064"/>
<rect x="773" y="250" width="18" height="8" fill="#1d0067"/>
<rect x="773" y="258" width="18" height="8" fill="#1a006b"/>
<rect x="773" y="266" width="18" height="8" fill="#17006e"/>
<rect x="773" y="274" width="18" height="8" fill="#130072"/>
<rect x="773" y="282" width="18" height="8" fill="#0f0077"/>
<rect x="773" y="290" width="18" height="8" fill="#0c007b"/>
<rect x="773" y="298" width="18" height="8" fill="#0a007d"/>
<rect x="773" y="306" width="18" height="8" fill="#070080"/>
<rect x="773" y="314" width="18" height="8" fill="#050083"/>
<rect x="773" y="322" width="18" height="8" fill="#030085"/>
<rect x="773" y="330" width="18" height="8" fill="#010087"/>
<rect x="773" y="338" width="18" height="8" fill="#000187"/>
<rect x="773" y="346" width="18" height="8" fill="#001c68"/>
<rect x="773" y="354" width="18" height="8" fill="#003150"/>
<rect x="773" y="362" width="18" height="8" fill="#004836"/>
<rect x="773" y="370" width="18" height="8" fill="#005626"/>
<rect x="773" y="378" width="18" height="8" fill="#00601b"/>
<rect x="773" y="386" width="18" height="8" fill="#006218"/>
<rect x="773" y="394" width="18" height="8" fill="#006417"/>
<rect x="773" y="402" width="18" height="8" fill="#006318"/>
<rect x="773" y="410" width="18" height="8" fill="#006219"/>
<rect x="773" y="418" width="18" height="8" fill="#00611a"/>
<rect x="773" y="426" width="18" height="8" fill="#00601b"/>
<rect x="773" y="434" width="18" height="8" fill="#005c20"/>
<rect x="773" y="442" width="18" height="8" fill="#005725"/>
<rect x="773" y="450" width="18" height="8" fill="#00512d"/>
<rect x="773" y="458" width="18" height="8" fill="#004a35"/>
<rect x="773" y="466" width="18" height="8" fill="#00403f"/>
<rect x="773" y="474" width="18" height="8" fill="#00364b"/>
<rect x="773" y="482" width="18" height="8" fill="#002c57"/>
<rect x="773" y="490" width="18" height="8" fill="#00265d"/>
<rect x="773" y="498" width="18" height="8" fill="#002163"/>
<rect x="773" y="506" width="18" height="8" fill="#001b69"/>
<rect x="773" y="514" width="18" height="8" fill="#00176e"/>
<rect x="773" y="522" width="18" height="8" fill="#001273"/>
<rect x="773" y="530" width="18" height="8" fill="#000f77"/>
<rect x="773" y="538" width="18" height="8" fill="#000c7a"/>
<rect x="773" y="546" width="18" height="8" fill="#00097e"/>
<rect x="773" y="554" width="18" height="8" fill="#000681"/>
<rect x="773" y="562" width="18" height="8" fill="#000483"/>
<rect x="773" y="570" width="18" height="8" fill="#000384"/>
<rect x="773" y="578" width="18" height="8" fill="#000285"/>
<rect x="773" y="586" width="18" height="32" fill="#000286"/>
<rect x="773" y="618" width="18" height="8" fill="#000186"/>
<rect x="773" y="626" width="18" height="24" fill="#000187"/>
<rect x="773" y="650" width="18" height="32" fill="#000088"/>
<rect x="773" y="682" width="18" height="32" fill="#010087"/>
<rect x="773" y="714" width="18" height="104" fill="#0a000a"/>
</g>
<rect x="142.5" y="169.5" width="649" height="648.5" fill="none" stroke="#000" stroke-width="1.5"/>
<g stroke="#000" stroke-width="1" fill="none"><path d="M161.0 818.0v-6 M161.0 170.0v6"/><path d="M179.0 818.0v-6 M179.0 170.0v6"/><path d="M197.0 818.0v-6 M197.0 170.0v6"/><path d="M215.0 818.0v-6 M215.0 170.0v6"/><path d="M233.0 818.0v-12 M233.0 170.0v12"/><path d="M251.0 818.0v-6 M251.0 170.0v6"/><path d="M269.0 818.0v-6 M269.0 170.0v6"/><path d="M287.0 818.0v-6 M287.0 170.0v6"/><path d="M305.0 818.0v-6 M305.0 170.0v6"/><path d="M323.0 818.0v-12 M323.0 170.0v12"/><path d="M341.0 818.0v-6 M341.0 170.0v6"/><path d="M359.0 818.0v-6 M359.0 170.0v6"/><path d="M377.0 818.0v-6 M377.0 170.0v6"/><path d="M395.0 818.0v-6 M395.0 170.0v6"/><path d="M413.0 818.0v-12 M413.0 170.0v12"/><path d="M431.0 818.0v-6 M431.0 170.0v6"/><path d="M449.0 818.0v-6 M449.0 170.0v6"/><path d="M467.0 818.0v-6 M467.0 170.0v6"/><path d="M485.0 818.0v-6 M485.0 170.0v6"/><path d="M503.0 818.0v-12 M503.0 170.0v12"/><path d="M521.0 818.0v-6 M521.0 170.0v6"/><path d="M539.0 818.0v-6 M539.0 170.0v6"/><path d="M557.0 818.0v-6 M557.0 170.0v6"/><path d="M575.0 818.0v-6 M575.0 170.0v6"/><path d="M593.0 818.0v-12 M593.0 170.0v12"/><path d="M611.0 818.0v-6 M611.0 170.0v6"/><path d="M629.0 818.0v-6 M629.0 170.0v6"/><path d="M647.0 818.0v-6 M647.0 170.0v6"/><path d="M665.0 818.0v-6 M665.0 170.0v6"/><path d="M683.0 818.0v-12 M683.0 170.0v12"/><path d="M701.0 818.0v-6 M701.0 170.0v6"/><path d="M719.0 818.0v-6 M719.0 170.0v6"/><path d="M737.0 818.0v-6 M737.0 170.0v6"/><path d="M755.0 818.0v-6 M755.0 170.0v6"/><path d="M773.0 818.0v-12 M773.0 170.0v12"/><path d="M143.0 738.0h6 M791.0 738.0h-6"/><path d="M143.0 658.0h12 M791.0 658.0h-12"/><path d="M143.0 578.0h6 M791.0 578.0h-6"/><path d="M143.0 498.0h12 M791.0 498.0h-12"/><path d="M143.0 418.0h6 M791.0 418.0h-6"/><path d="M143.0 338.0h12 M791.0 338.0h-12"/><path d="M143.0 258.0h6 M791.0 258.0h-6"/><path d="M143.0 178.0h12 M791.0 178.0h-12"/></g>
<rect x="538.5" y="33.5" width="324.5" height="14" fill="url(#cb)" stroke="#000" stroke-width="1"/>
<g stroke="#000" stroke-width="1" fill="none"><path d="M593.0 33v3 M593.0 47v-3"/><path d="M647.0 33v3 M647.0 47v-3"/><path d="M701.0 33v3 M701.0 47v-3"/><path d="M755.0 33v3 M755.0 47v-3"/><path d="M809.0 33v3 M809.0 47v-3"/></g>
<text x="700.5" y="20" text-anchor="middle">TEC</text>
<text x="538.5" y="82" text-anchor="middle">0</text><text x="592.7" y="82" text-anchor="middle">10</text><text x="646.9" y="82" text-anchor="middle">20</text><text x="701.1" y="82" text-anchor="middle">30</text><text x="755.3" y="82" text-anchor="middle">40</text><text x="809.5" y="82" text-anchor="middle">50</text><text x="863.7" y="82" text-anchor="middle">60</text>
<text x="470.5" y="155.5" text-anchor="middle" xml:space="preserve">PBf20190124  UT: 10  mjd: 58507</text>
<text x="143.0" y="851.4" text-anchor="middle">0</text><text x="233.0" y="851.4" text-anchor="middle">50</text><text x="323.0" y="851.4" text-anchor="middle">100</text><text x="413.0" y="851.4" text-anchor="middle">150</text><text x="503.0" y="851.4" text-anchor="middle">200</text><text x="593.0" y="851.4" text-anchor="middle">250</text><text x="683.0" y="851.4" text-anchor="middle">300</text><text x="773.0" y="851.4" text-anchor="middle">350</text>
<text x="128.6" y="825.0" text-anchor="end">-40</text><text x="128.6" y="665.0" text-anchor="end">-20</text><text x="128.6" y="505.0" text-anchor="end">0</text><text x="128.6" y="345.0" text-anchor="end">20</text><text x="128.6" y="185.0" text-anchor="end">40</text>
<text x="-1" y="416.6">Latitude</text>
<text x="467.3" y="892.5" text-anchor="middle">Longitude</text>
</svg>
</body></html>
